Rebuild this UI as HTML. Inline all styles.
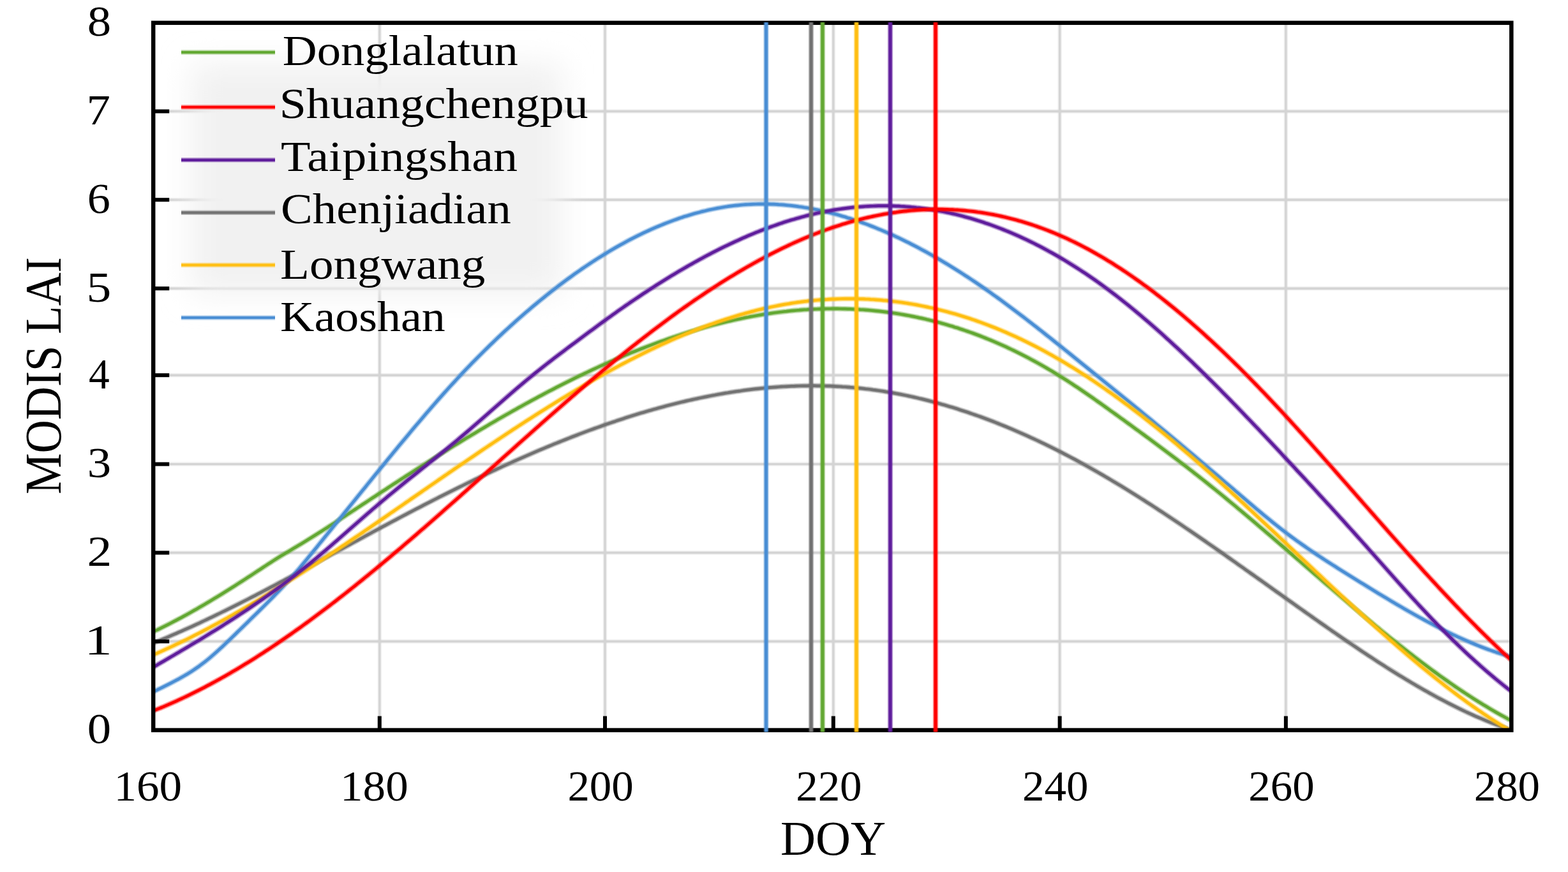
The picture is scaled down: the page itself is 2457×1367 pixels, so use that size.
<!DOCTYPE html>
<html><head><meta charset="utf-8"><title>MODIS LAI</title>
<style>html,body{margin:0;padding:0;background:#fff;}svg{display:block;}</style></head>
<body>
<svg xmlns="http://www.w3.org/2000/svg" width="2457" height="1367" viewBox="0 0 2457 1367">
<defs><clipPath id="pc"><rect x="240.2" y="35.8" width="2128.1000000000004" height="1108.8"/></clipPath><filter id="lb" x="-30%" y="-30%" width="160%" height="160%"><feGaussianBlur stdDeviation="24"/></filter></defs>
<rect x="0" y="0" width="2457" height="1367" fill="#ffffff"/>
<g stroke="#d4d4d4" stroke-width="6.5" stroke-opacity="0.35"><line x1="594.8" y1="35.8" x2="594.8" y2="1144.6"/><line x1="948.0" y1="35.8" x2="948.0" y2="1144.6"/><line x1="1305.8" y1="35.8" x2="1305.8" y2="1144.6"/><line x1="1660.6" y1="35.8" x2="1660.6" y2="1144.6"/><line x1="2014.9" y1="35.8" x2="2014.9" y2="1144.6"/><line x1="240.2" y1="1005.5" x2="2368.3" y2="1005.5"/><line x1="240.2" y1="866.5" x2="2368.3" y2="866.5"/><line x1="240.2" y1="727.6" x2="2368.3" y2="727.6"/><line x1="240.2" y1="588.2" x2="2368.3" y2="588.2"/><line x1="240.2" y1="452.2" x2="2368.3" y2="452.2"/><line x1="240.2" y1="313.2" x2="2368.3" y2="313.2"/><line x1="240.2" y1="174.5" x2="2368.3" y2="174.5"/></g>
<g stroke="#d4d4d4" stroke-width="3.4"><line x1="594.8" y1="35.8" x2="594.8" y2="1144.6"/><line x1="948.0" y1="35.8" x2="948.0" y2="1144.6"/><line x1="1305.8" y1="35.8" x2="1305.8" y2="1144.6"/><line x1="1660.6" y1="35.8" x2="1660.6" y2="1144.6"/><line x1="2014.9" y1="35.8" x2="2014.9" y2="1144.6"/><line x1="240.2" y1="1005.5" x2="2368.3" y2="1005.5"/><line x1="240.2" y1="866.5" x2="2368.3" y2="866.5"/><line x1="240.2" y1="727.6" x2="2368.3" y2="727.6"/><line x1="240.2" y1="588.2" x2="2368.3" y2="588.2"/><line x1="240.2" y1="452.2" x2="2368.3" y2="452.2"/><line x1="240.2" y1="313.2" x2="2368.3" y2="313.2"/><line x1="240.2" y1="174.5" x2="2368.3" y2="174.5"/></g>
<rect x="300" y="100" width="580" height="360" fill="#f1f1f1" filter="url(#lb)"/>
<g clip-path="url(#pc)">
<path d="M240.2,1008.1 L244.2,1006.5 L248.2,1004.8 L252.2,1003.2 L256.2,1001.5 L260.2,999.8 L264.2,998.2 L268.2,996.4 L272.2,994.7 L276.2,993.0 L280.2,991.2 L284.2,989.5 L288.2,987.7 L292.2,985.9 L296.2,984.1 L300.2,982.3 L304.2,980.5 L308.2,978.6 L312.2,976.8 L316.2,974.9 L320.2,973.0 L324.2,971.1 L328.2,969.2 L332.2,967.3 L336.2,965.4 L340.2,963.4 L344.2,961.5 L348.2,959.5 L352.2,957.6 L356.2,955.6 L360.2,953.6 L364.2,951.6 L368.2,949.6 L372.2,947.6 L376.2,945.6 L380.2,943.5 L384.2,941.5 L388.2,939.5 L392.2,937.4 L396.2,935.3 L400.2,933.3 L404.2,931.2 L408.2,929.1 L412.2,927.0 L416.2,924.9 L420.2,922.8 L424.2,920.7 L428.2,918.6 L432.2,916.5 L436.2,914.3 L440.2,912.2 L444.2,910.1 L448.2,907.9 L452.2,905.8 L456.2,903.6 L460.2,901.5 L464.2,899.3 L468.2,897.2 L472.2,895.0 L476.2,892.8 L480.2,890.7 L484.2,888.5 L488.2,886.3 L492.2,884.2 L496.2,882.0 L500.2,879.8 L504.2,877.6 L508.2,875.4 L512.2,873.2 L516.2,871.1 L520.2,868.9 L524.2,866.7 L528.2,864.5 L532.2,862.3 L536.2,860.1 L540.2,858.0 L544.2,855.8 L548.2,853.6 L552.2,851.4 L556.2,849.2 L560.2,847.1 L564.2,844.9 L568.2,842.7 L572.2,840.5 L576.2,838.4 L580.2,836.2 L584.2,834.0 L588.2,831.9 L592.2,829.7 L596.2,827.6 L600.2,825.4 L604.2,823.3 L608.2,821.2 L612.2,819.0 L616.2,816.9 L620.2,814.8 L624.2,812.6 L628.2,810.5 L632.2,808.4 L636.2,806.3 L640.2,804.2 L644.2,802.1 L648.2,800.0 L652.2,797.9 L656.2,795.9 L660.2,793.8 L664.2,791.7 L668.2,789.7 L672.2,787.6 L676.2,785.6 L680.2,783.5 L684.2,781.5 L688.2,779.4 L692.2,777.4 L696.2,775.4 L700.2,773.4 L704.2,771.4 L708.2,769.4 L712.2,767.4 L716.2,765.4 L720.2,763.4 L724.2,761.5 L728.2,759.5 L732.2,757.5 L736.2,755.6 L740.2,753.7 L744.2,751.7 L748.2,749.8 L752.2,747.9 L756.2,746.0 L760.2,744.1 L764.2,742.2 L768.2,740.3 L772.2,738.4 L776.2,736.6 L780.2,734.7 L784.2,732.9 L788.2,731.0 L792.2,729.2 L796.2,727.4 L800.2,725.5 L804.2,723.7 L808.2,721.9 L812.2,720.2 L816.2,718.4 L820.2,716.6 L824.2,714.9 L828.2,713.1 L832.2,711.4 L836.2,709.7 L840.2,707.9 L844.2,706.2 L848.2,704.5 L852.2,702.9 L856.2,701.2 L860.2,699.5 L864.2,697.9 L868.2,696.2 L872.2,694.6 L876.2,693.0 L880.2,691.4 L884.2,689.8 L888.2,688.2 L892.2,686.6 L896.2,685.0 L900.2,683.5 L904.2,682.0 L908.2,680.4 L912.2,678.9 L916.2,677.4 L920.2,675.9 L924.2,674.4 L928.2,673.0 L932.2,671.5 L936.2,670.1 L940.2,668.7 L944.2,667.2 L948.2,665.8 L952.2,664.4 L956.2,663.1 L960.2,661.7 L964.2,660.4 L968.2,659.0 L972.2,657.7 L976.2,656.4 L980.2,655.1 L984.2,653.8 L988.2,652.6 L992.2,651.3 L996.2,650.1 L1000.2,648.8 L1004.2,647.6 L1008.2,646.4 L1012.2,645.2 L1016.2,644.1 L1020.2,642.9 L1024.2,641.8 L1028.2,640.7 L1032.2,639.6 L1036.2,638.5 L1040.2,637.4 L1044.2,636.3 L1048.2,635.3 L1052.2,634.3 L1056.2,633.3 L1060.2,632.3 L1064.2,631.3 L1068.2,630.3 L1072.2,629.4 L1076.2,628.4 L1080.2,627.5 L1084.2,626.6 L1088.2,625.7 L1092.2,624.9 L1096.2,624.0 L1100.2,623.2 L1104.2,622.4 L1108.2,621.6 L1112.2,620.8 L1116.2,620.0 L1120.2,619.3 L1124.2,618.5 L1128.2,617.8 L1132.2,617.1 L1136.2,616.4 L1140.2,615.8 L1144.2,615.1 L1148.2,614.5 L1152.2,613.9 L1156.2,613.3 L1160.2,612.8 L1164.2,612.2 L1168.2,611.7 L1172.2,611.2 L1176.2,610.7 L1180.2,610.2 L1184.2,609.7 L1188.2,609.3 L1192.2,608.9 L1196.2,608.5 L1200.2,608.1 L1204.2,607.7 L1208.2,607.4 L1212.2,607.1 L1216.2,606.8 L1220.2,606.5 L1224.2,606.2 L1228.2,606.0 L1232.2,605.8 L1236.2,605.6 L1240.2,605.4 L1244.2,605.3 L1248.2,605.1 L1252.2,605.0 L1256.2,604.9 L1260.2,604.8 L1264.2,604.8 L1268.2,604.7 L1272.2,604.7 L1276.2,604.7 L1280.2,604.8 L1284.2,604.8 L1288.2,604.9 L1292.2,605.0 L1296.2,605.1 L1300.2,605.2 L1304.2,605.4 L1308.2,605.6 L1312.2,605.8 L1316.2,606.0 L1320.2,606.3 L1324.2,606.5 L1328.2,606.8 L1332.2,607.2 L1336.2,607.5 L1340.2,607.9 L1344.2,608.3 L1348.2,608.7 L1352.2,609.1 L1356.2,609.6 L1360.2,610.0 L1364.2,610.5 L1368.2,611.1 L1372.2,611.6 L1376.2,612.2 L1380.2,612.8 L1384.2,613.4 L1388.2,614.1 L1392.2,614.7 L1396.2,615.4 L1400.2,616.1 L1404.2,616.9 L1408.2,617.6 L1412.2,618.4 L1416.2,619.2 L1420.2,620.0 L1424.2,620.9 L1428.2,621.7 L1432.2,622.6 L1436.2,623.5 L1440.2,624.5 L1444.2,625.4 L1448.2,626.4 L1452.2,627.4 L1456.2,628.4 L1460.2,629.5 L1464.2,630.5 L1468.2,631.6 L1472.2,632.7 L1476.2,633.9 L1480.2,635.0 L1484.2,636.2 L1488.2,637.4 L1492.2,638.6 L1496.2,639.8 L1500.2,641.1 L1504.2,642.4 L1508.2,643.7 L1512.2,645.0 L1516.2,646.3 L1520.2,647.7 L1524.2,649.1 L1528.2,650.5 L1532.2,651.9 L1536.2,653.3 L1540.2,654.8 L1544.2,656.3 L1548.2,657.8 L1552.2,659.3 L1556.2,660.8 L1560.2,662.4 L1564.2,664.0 L1568.2,665.6 L1572.2,667.2 L1576.2,668.8 L1580.2,670.5 L1584.2,672.2 L1588.2,673.9 L1592.2,675.6 L1596.2,677.3 L1600.2,679.1 L1604.2,680.9 L1608.2,682.7 L1612.2,684.5 L1616.2,686.3 L1620.2,688.1 L1624.2,690.0 L1628.2,691.9 L1632.2,693.8 L1636.2,695.7 L1640.2,697.7 L1644.2,699.6 L1648.2,701.6 L1652.2,703.6 L1656.2,705.6 L1660.2,707.7 L1664.2,709.7 L1668.2,711.8 L1672.2,713.9 L1676.2,716.0 L1680.2,718.1 L1684.2,720.2 L1688.2,722.4 L1692.2,724.6 L1696.2,726.8 L1700.2,729.0 L1704.2,731.2 L1708.2,733.5 L1712.2,735.7 L1716.2,738.0 L1720.2,740.3 L1724.2,742.6 L1728.2,744.9 L1732.2,747.3 L1736.2,749.6 L1740.2,752.0 L1744.2,754.4 L1748.2,756.8 L1752.2,759.2 L1756.2,761.6 L1760.2,764.1 L1764.2,766.5 L1768.2,769.0 L1772.2,771.5 L1776.2,774.0 L1780.2,776.5 L1784.2,779.0 L1788.2,781.6 L1792.2,784.1 L1796.2,786.7 L1800.2,789.3 L1804.2,791.8 L1808.2,794.4 L1812.2,797.0 L1816.2,799.7 L1820.2,802.3 L1824.2,804.9 L1828.2,807.6 L1832.2,810.2 L1836.2,812.9 L1840.2,815.6 L1844.2,818.2 L1848.2,820.9 L1852.2,823.6 L1856.2,826.4 L1860.2,829.1 L1864.2,831.8 L1868.2,834.5 L1872.2,837.3 L1876.2,840.0 L1880.2,842.8 L1884.2,845.5 L1888.2,848.3 L1892.2,851.1 L1896.2,853.9 L1900.2,856.6 L1904.2,859.4 L1908.2,862.2 L1912.2,865.0 L1916.2,867.8 L1920.2,870.6 L1924.2,873.5 L1928.2,876.3 L1932.2,879.1 L1936.2,881.9 L1940.2,884.8 L1944.2,887.6 L1948.2,890.4 L1952.2,893.3 L1956.2,896.1 L1960.2,899.0 L1964.2,901.8 L1968.2,904.6 L1972.2,907.5 L1976.2,910.3 L1980.2,913.2 L1984.2,916.0 L1988.2,918.9 L1992.2,921.7 L1996.2,924.6 L2000.2,927.5 L2004.2,930.3 L2008.2,933.2 L2012.2,936.0 L2016.2,938.9 L2020.2,941.7 L2024.2,944.5 L2028.2,947.4 L2032.2,950.2 L2036.2,953.1 L2040.2,955.9 L2044.2,958.7 L2048.2,961.6 L2052.2,964.4 L2056.2,967.2 L2060.2,970.1 L2064.2,972.9 L2068.2,975.7 L2072.2,978.5 L2076.2,981.3 L2080.2,984.1 L2084.2,986.9 L2088.2,989.7 L2092.2,992.4 L2096.2,995.2 L2100.2,998.0 L2104.2,1000.7 L2108.2,1003.5 L2112.2,1006.2 L2116.2,1008.9 L2120.2,1011.6 L2124.2,1014.3 L2128.2,1017.0 L2132.2,1019.7 L2136.2,1022.4 L2140.2,1025.0 L2144.2,1027.7 L2148.2,1030.3 L2152.2,1032.9 L2156.2,1035.6 L2160.2,1038.2 L2164.2,1040.7 L2168.2,1043.3 L2172.2,1045.9 L2176.2,1048.4 L2180.2,1050.9 L2184.2,1053.4 L2188.2,1055.9 L2192.2,1058.4 L2196.2,1060.8 L2200.2,1063.3 L2204.2,1065.7 L2208.2,1068.1 L2212.2,1070.5 L2216.2,1072.8 L2220.2,1075.2 L2224.2,1077.5 L2228.2,1079.8 L2232.2,1082.1 L2236.2,1084.3 L2240.2,1086.6 L2244.2,1088.8 L2248.2,1091.0 L2252.2,1093.2 L2256.2,1095.3 L2260.2,1097.4 L2264.2,1099.5 L2268.2,1101.6 L2272.2,1103.7 L2276.2,1105.7 L2280.2,1107.7 L2284.2,1109.7 L2288.2,1111.6 L2292.2,1113.6 L2296.2,1115.5 L2300.2,1117.3 L2304.2,1119.2 L2308.2,1121.0 L2312.2,1122.8 L2316.2,1124.5 L2320.2,1126.2 L2324.2,1127.9 L2328.2,1129.6 L2332.2,1131.2 L2336.2,1132.8 L2340.2,1134.4 L2344.2,1135.9 L2348.2,1137.4 L2352.2,1138.9 L2356.2,1140.3 L2360.2,1141.7 L2364.2,1143.1 L2368.2,1144.4 L2368.3,1144.4" fill="none" stroke="#727272" stroke-width="8.4" stroke-opacity="0.42" stroke-linejoin="round"/>
<path d="M240.2,1008.1 L244.2,1006.5 L248.2,1004.8 L252.2,1003.2 L256.2,1001.5 L260.2,999.8 L264.2,998.2 L268.2,996.4 L272.2,994.7 L276.2,993.0 L280.2,991.2 L284.2,989.5 L288.2,987.7 L292.2,985.9 L296.2,984.1 L300.2,982.3 L304.2,980.5 L308.2,978.6 L312.2,976.8 L316.2,974.9 L320.2,973.0 L324.2,971.1 L328.2,969.2 L332.2,967.3 L336.2,965.4 L340.2,963.4 L344.2,961.5 L348.2,959.5 L352.2,957.6 L356.2,955.6 L360.2,953.6 L364.2,951.6 L368.2,949.6 L372.2,947.6 L376.2,945.6 L380.2,943.5 L384.2,941.5 L388.2,939.5 L392.2,937.4 L396.2,935.3 L400.2,933.3 L404.2,931.2 L408.2,929.1 L412.2,927.0 L416.2,924.9 L420.2,922.8 L424.2,920.7 L428.2,918.6 L432.2,916.5 L436.2,914.3 L440.2,912.2 L444.2,910.1 L448.2,907.9 L452.2,905.8 L456.2,903.6 L460.2,901.5 L464.2,899.3 L468.2,897.2 L472.2,895.0 L476.2,892.8 L480.2,890.7 L484.2,888.5 L488.2,886.3 L492.2,884.2 L496.2,882.0 L500.2,879.8 L504.2,877.6 L508.2,875.4 L512.2,873.2 L516.2,871.1 L520.2,868.9 L524.2,866.7 L528.2,864.5 L532.2,862.3 L536.2,860.1 L540.2,858.0 L544.2,855.8 L548.2,853.6 L552.2,851.4 L556.2,849.2 L560.2,847.1 L564.2,844.9 L568.2,842.7 L572.2,840.5 L576.2,838.4 L580.2,836.2 L584.2,834.0 L588.2,831.9 L592.2,829.7 L596.2,827.6 L600.2,825.4 L604.2,823.3 L608.2,821.2 L612.2,819.0 L616.2,816.9 L620.2,814.8 L624.2,812.6 L628.2,810.5 L632.2,808.4 L636.2,806.3 L640.2,804.2 L644.2,802.1 L648.2,800.0 L652.2,797.9 L656.2,795.9 L660.2,793.8 L664.2,791.7 L668.2,789.7 L672.2,787.6 L676.2,785.6 L680.2,783.5 L684.2,781.5 L688.2,779.4 L692.2,777.4 L696.2,775.4 L700.2,773.4 L704.2,771.4 L708.2,769.4 L712.2,767.4 L716.2,765.4 L720.2,763.4 L724.2,761.5 L728.2,759.5 L732.2,757.5 L736.2,755.6 L740.2,753.7 L744.2,751.7 L748.2,749.8 L752.2,747.9 L756.2,746.0 L760.2,744.1 L764.2,742.2 L768.2,740.3 L772.2,738.4 L776.2,736.6 L780.2,734.7 L784.2,732.9 L788.2,731.0 L792.2,729.2 L796.2,727.4 L800.2,725.5 L804.2,723.7 L808.2,721.9 L812.2,720.2 L816.2,718.4 L820.2,716.6 L824.2,714.9 L828.2,713.1 L832.2,711.4 L836.2,709.7 L840.2,707.9 L844.2,706.2 L848.2,704.5 L852.2,702.9 L856.2,701.2 L860.2,699.5 L864.2,697.9 L868.2,696.2 L872.2,694.6 L876.2,693.0 L880.2,691.4 L884.2,689.8 L888.2,688.2 L892.2,686.6 L896.2,685.0 L900.2,683.5 L904.2,682.0 L908.2,680.4 L912.2,678.9 L916.2,677.4 L920.2,675.9 L924.2,674.4 L928.2,673.0 L932.2,671.5 L936.2,670.1 L940.2,668.7 L944.2,667.2 L948.2,665.8 L952.2,664.4 L956.2,663.1 L960.2,661.7 L964.2,660.4 L968.2,659.0 L972.2,657.7 L976.2,656.4 L980.2,655.1 L984.2,653.8 L988.2,652.6 L992.2,651.3 L996.2,650.1 L1000.2,648.8 L1004.2,647.6 L1008.2,646.4 L1012.2,645.2 L1016.2,644.1 L1020.2,642.9 L1024.2,641.8 L1028.2,640.7 L1032.2,639.6 L1036.2,638.5 L1040.2,637.4 L1044.2,636.3 L1048.2,635.3 L1052.2,634.3 L1056.2,633.3 L1060.2,632.3 L1064.2,631.3 L1068.2,630.3 L1072.2,629.4 L1076.2,628.4 L1080.2,627.5 L1084.2,626.6 L1088.2,625.7 L1092.2,624.9 L1096.2,624.0 L1100.2,623.2 L1104.2,622.4 L1108.2,621.6 L1112.2,620.8 L1116.2,620.0 L1120.2,619.3 L1124.2,618.5 L1128.2,617.8 L1132.2,617.1 L1136.2,616.4 L1140.2,615.8 L1144.2,615.1 L1148.2,614.5 L1152.2,613.9 L1156.2,613.3 L1160.2,612.8 L1164.2,612.2 L1168.2,611.7 L1172.2,611.2 L1176.2,610.7 L1180.2,610.2 L1184.2,609.7 L1188.2,609.3 L1192.2,608.9 L1196.2,608.5 L1200.2,608.1 L1204.2,607.7 L1208.2,607.4 L1212.2,607.1 L1216.2,606.8 L1220.2,606.5 L1224.2,606.2 L1228.2,606.0 L1232.2,605.8 L1236.2,605.6 L1240.2,605.4 L1244.2,605.3 L1248.2,605.1 L1252.2,605.0 L1256.2,604.9 L1260.2,604.8 L1264.2,604.8 L1268.2,604.7 L1272.2,604.7 L1276.2,604.7 L1280.2,604.8 L1284.2,604.8 L1288.2,604.9 L1292.2,605.0 L1296.2,605.1 L1300.2,605.2 L1304.2,605.4 L1308.2,605.6 L1312.2,605.8 L1316.2,606.0 L1320.2,606.3 L1324.2,606.5 L1328.2,606.8 L1332.2,607.2 L1336.2,607.5 L1340.2,607.9 L1344.2,608.3 L1348.2,608.7 L1352.2,609.1 L1356.2,609.6 L1360.2,610.0 L1364.2,610.5 L1368.2,611.1 L1372.2,611.6 L1376.2,612.2 L1380.2,612.8 L1384.2,613.4 L1388.2,614.1 L1392.2,614.7 L1396.2,615.4 L1400.2,616.1 L1404.2,616.9 L1408.2,617.6 L1412.2,618.4 L1416.2,619.2 L1420.2,620.0 L1424.2,620.9 L1428.2,621.7 L1432.2,622.6 L1436.2,623.5 L1440.2,624.5 L1444.2,625.4 L1448.2,626.4 L1452.2,627.4 L1456.2,628.4 L1460.2,629.5 L1464.2,630.5 L1468.2,631.6 L1472.2,632.7 L1476.2,633.9 L1480.2,635.0 L1484.2,636.2 L1488.2,637.4 L1492.2,638.6 L1496.2,639.8 L1500.2,641.1 L1504.2,642.4 L1508.2,643.7 L1512.2,645.0 L1516.2,646.3 L1520.2,647.7 L1524.2,649.1 L1528.2,650.5 L1532.2,651.9 L1536.2,653.3 L1540.2,654.8 L1544.2,656.3 L1548.2,657.8 L1552.2,659.3 L1556.2,660.8 L1560.2,662.4 L1564.2,664.0 L1568.2,665.6 L1572.2,667.2 L1576.2,668.8 L1580.2,670.5 L1584.2,672.2 L1588.2,673.9 L1592.2,675.6 L1596.2,677.3 L1600.2,679.1 L1604.2,680.9 L1608.2,682.7 L1612.2,684.5 L1616.2,686.3 L1620.2,688.1 L1624.2,690.0 L1628.2,691.9 L1632.2,693.8 L1636.2,695.7 L1640.2,697.7 L1644.2,699.6 L1648.2,701.6 L1652.2,703.6 L1656.2,705.6 L1660.2,707.7 L1664.2,709.7 L1668.2,711.8 L1672.2,713.9 L1676.2,716.0 L1680.2,718.1 L1684.2,720.2 L1688.2,722.4 L1692.2,724.6 L1696.2,726.8 L1700.2,729.0 L1704.2,731.2 L1708.2,733.5 L1712.2,735.7 L1716.2,738.0 L1720.2,740.3 L1724.2,742.6 L1728.2,744.9 L1732.2,747.3 L1736.2,749.6 L1740.2,752.0 L1744.2,754.4 L1748.2,756.8 L1752.2,759.2 L1756.2,761.6 L1760.2,764.1 L1764.2,766.5 L1768.2,769.0 L1772.2,771.5 L1776.2,774.0 L1780.2,776.5 L1784.2,779.0 L1788.2,781.6 L1792.2,784.1 L1796.2,786.7 L1800.2,789.3 L1804.2,791.8 L1808.2,794.4 L1812.2,797.0 L1816.2,799.7 L1820.2,802.3 L1824.2,804.9 L1828.2,807.6 L1832.2,810.2 L1836.2,812.9 L1840.2,815.6 L1844.2,818.2 L1848.2,820.9 L1852.2,823.6 L1856.2,826.4 L1860.2,829.1 L1864.2,831.8 L1868.2,834.5 L1872.2,837.3 L1876.2,840.0 L1880.2,842.8 L1884.2,845.5 L1888.2,848.3 L1892.2,851.1 L1896.2,853.9 L1900.2,856.6 L1904.2,859.4 L1908.2,862.2 L1912.2,865.0 L1916.2,867.8 L1920.2,870.6 L1924.2,873.5 L1928.2,876.3 L1932.2,879.1 L1936.2,881.9 L1940.2,884.8 L1944.2,887.6 L1948.2,890.4 L1952.2,893.3 L1956.2,896.1 L1960.2,899.0 L1964.2,901.8 L1968.2,904.6 L1972.2,907.5 L1976.2,910.3 L1980.2,913.2 L1984.2,916.0 L1988.2,918.9 L1992.2,921.7 L1996.2,924.6 L2000.2,927.5 L2004.2,930.3 L2008.2,933.2 L2012.2,936.0 L2016.2,938.9 L2020.2,941.7 L2024.2,944.5 L2028.2,947.4 L2032.2,950.2 L2036.2,953.1 L2040.2,955.9 L2044.2,958.7 L2048.2,961.6 L2052.2,964.4 L2056.2,967.2 L2060.2,970.1 L2064.2,972.9 L2068.2,975.7 L2072.2,978.5 L2076.2,981.3 L2080.2,984.1 L2084.2,986.9 L2088.2,989.7 L2092.2,992.4 L2096.2,995.2 L2100.2,998.0 L2104.2,1000.7 L2108.2,1003.5 L2112.2,1006.2 L2116.2,1008.9 L2120.2,1011.6 L2124.2,1014.3 L2128.2,1017.0 L2132.2,1019.7 L2136.2,1022.4 L2140.2,1025.0 L2144.2,1027.7 L2148.2,1030.3 L2152.2,1032.9 L2156.2,1035.6 L2160.2,1038.2 L2164.2,1040.7 L2168.2,1043.3 L2172.2,1045.9 L2176.2,1048.4 L2180.2,1050.9 L2184.2,1053.4 L2188.2,1055.9 L2192.2,1058.4 L2196.2,1060.8 L2200.2,1063.3 L2204.2,1065.7 L2208.2,1068.1 L2212.2,1070.5 L2216.2,1072.8 L2220.2,1075.2 L2224.2,1077.5 L2228.2,1079.8 L2232.2,1082.1 L2236.2,1084.3 L2240.2,1086.6 L2244.2,1088.8 L2248.2,1091.0 L2252.2,1093.2 L2256.2,1095.3 L2260.2,1097.4 L2264.2,1099.5 L2268.2,1101.6 L2272.2,1103.7 L2276.2,1105.7 L2280.2,1107.7 L2284.2,1109.7 L2288.2,1111.6 L2292.2,1113.6 L2296.2,1115.5 L2300.2,1117.3 L2304.2,1119.2 L2308.2,1121.0 L2312.2,1122.8 L2316.2,1124.5 L2320.2,1126.2 L2324.2,1127.9 L2328.2,1129.6 L2332.2,1131.2 L2336.2,1132.8 L2340.2,1134.4 L2344.2,1135.9 L2348.2,1137.4 L2352.2,1138.9 L2356.2,1140.3 L2360.2,1141.7 L2364.2,1143.1 L2368.2,1144.4 L2368.3,1144.4" fill="none" stroke="#727272" stroke-width="4.7" stroke-linejoin="round"/>
<path d="M240.2,990.4 L244.2,988.5 L248.2,986.6 L252.2,984.6 L256.2,982.6 L260.2,980.6 L264.2,978.6 L268.2,976.5 L272.2,974.4 L276.2,972.3 L280.2,970.2 L284.2,968.1 L288.2,965.9 L292.2,963.7 L296.2,961.5 L300.2,959.2 L304.2,956.9 L308.2,954.7 L312.2,952.3 L316.2,950.0 L320.2,947.7 L324.2,945.3 L328.2,942.9 L332.2,940.5 L336.2,938.1 L340.2,935.7 L344.2,933.2 L348.2,930.8 L352.2,928.3 L356.2,925.8 L360.2,923.3 L364.2,920.7 L368.2,918.2 L372.2,915.6 L376.2,913.1 L380.2,910.5 L384.2,907.9 L388.2,905.3 L392.2,902.7 L396.2,900.1 L400.2,897.4 L404.2,894.8 L408.2,892.2 L412.2,889.5 L416.2,886.9 L420.2,884.3 L424.2,881.7 L428.2,879.1 L432.2,876.6 L436.2,874.1 L440.2,871.6 L444.2,869.2 L448.2,866.8 L452.2,864.4 L456.2,862.0 L460.2,859.6 L464.2,857.2 L468.2,854.8 L472.2,852.4 L476.2,850.0 L480.2,847.5 L484.2,845.0 L488.2,842.6 L492.2,840.1 L496.2,837.6 L500.2,835.0 L504.2,832.5 L508.2,829.9 L512.2,827.4 L516.2,824.8 L520.2,822.2 L524.2,819.7 L528.2,817.1 L532.2,814.5 L536.2,811.9 L540.2,809.2 L544.2,806.6 L548.2,804.0 L552.2,801.4 L556.2,798.7 L560.2,796.1 L564.2,793.5 L568.2,790.8 L572.2,788.2 L576.2,785.6 L580.2,782.9 L584.2,780.3 L588.2,777.7 L592.2,775.0 L596.2,772.4 L600.2,769.8 L604.2,767.2 L608.2,764.5 L612.2,761.9 L616.2,759.3 L620.2,756.7 L624.2,754.1 L628.2,751.5 L632.2,748.9 L636.2,746.3 L640.2,743.8 L644.2,741.2 L648.2,738.6 L652.2,736.1 L656.2,733.5 L660.2,730.9 L664.2,728.4 L668.2,725.9 L672.2,723.3 L676.2,720.8 L680.2,718.3 L684.2,715.8 L688.2,713.2 L692.2,710.7 L696.2,708.2 L700.2,705.8 L704.2,703.3 L708.2,700.8 L712.2,698.3 L716.2,695.9 L720.2,693.4 L724.2,691.0 L728.2,688.5 L732.2,686.1 L736.2,683.7 L740.2,681.3 L744.2,678.9 L748.2,676.5 L752.2,674.1 L756.2,671.7 L760.2,669.4 L764.2,667.0 L768.2,664.6 L772.2,662.3 L776.2,660.0 L780.2,657.6 L784.2,655.3 L788.2,653.0 L792.2,650.7 L796.2,648.5 L800.2,646.2 L804.2,643.9 L808.2,641.7 L812.2,639.4 L816.2,637.2 L820.2,635.0 L824.2,632.8 L828.2,630.6 L832.2,628.4 L836.2,626.2 L840.2,624.1 L844.2,621.9 L848.2,619.8 L852.2,617.7 L856.2,615.5 L860.2,613.4 L864.2,611.4 L868.2,609.3 L872.2,607.2 L876.2,605.2 L880.2,603.1 L884.2,601.1 L888.2,599.1 L892.2,597.1 L896.2,595.1 L900.2,593.1 L904.2,591.2 L908.2,589.2 L912.2,587.3 L916.2,585.4 L920.2,583.5 L924.2,581.6 L928.2,579.7 L932.2,577.9 L936.2,576.0 L940.2,574.2 L944.2,572.4 L948.2,570.6 L952.2,568.8 L956.2,567.0 L960.2,565.3 L964.2,563.5 L968.2,561.8 L972.2,560.1 L976.2,558.4 L980.2,556.7 L984.2,555.1 L988.2,553.4 L992.2,551.8 L996.2,550.2 L1000.2,548.6 L1004.2,547.0 L1008.2,545.5 L1012.2,543.9 L1016.2,542.4 L1020.2,540.9 L1024.2,539.4 L1028.2,537.9 L1032.2,536.4 L1036.2,535.0 L1040.2,533.6 L1044.2,532.2 L1048.2,530.8 L1052.2,529.4 L1056.2,528.1 L1060.2,526.7 L1064.2,525.4 L1068.2,524.1 L1072.2,522.8 L1076.2,521.6 L1080.2,520.3 L1084.2,519.1 L1088.2,517.9 L1092.2,516.7 L1096.2,515.5 L1100.2,514.4 L1104.2,513.3 L1108.2,512.2 L1112.2,511.1 L1116.2,510.0 L1120.2,509.0 L1124.2,507.9 L1128.2,506.9 L1132.2,505.9 L1136.2,505.0 L1140.2,504.0 L1144.2,503.1 L1148.2,502.2 L1152.2,501.3 L1156.2,500.4 L1160.2,499.6 L1164.2,498.8 L1168.2,497.9 L1172.2,497.2 L1176.2,496.4 L1180.2,495.7 L1184.2,495.0 L1188.2,494.3 L1192.2,493.6 L1196.2,492.9 L1200.2,492.3 L1204.2,491.7 L1208.2,491.1 L1212.2,490.5 L1216.2,490.0 L1220.2,489.5 L1224.2,489.0 L1228.2,488.5 L1232.2,488.1 L1236.2,487.6 L1240.2,487.2 L1244.2,486.8 L1248.2,486.5 L1252.2,486.2 L1256.2,485.8 L1260.2,485.5 L1264.2,485.3 L1268.2,485.0 L1272.2,484.8 L1276.2,484.6 L1280.2,484.5 L1284.2,484.3 L1288.2,484.2 L1292.2,484.1 L1296.2,484.0 L1300.2,484.0 L1304.2,483.9 L1308.2,483.9 L1312.2,483.9 L1316.2,484.0 L1320.2,484.1 L1324.2,484.2 L1328.2,484.3 L1332.2,484.4 L1336.2,484.6 L1340.2,484.8 L1344.2,485.0 L1348.2,485.3 L1352.2,485.5 L1356.2,485.8 L1360.2,486.1 L1364.2,486.5 L1368.2,486.9 L1372.2,487.3 L1376.2,487.7 L1380.2,488.1 L1384.2,488.6 L1388.2,489.1 L1392.2,489.6 L1396.2,490.2 L1400.2,490.8 L1404.2,491.4 L1408.2,492.0 L1412.2,492.7 L1416.2,493.4 L1420.2,494.1 L1424.2,494.8 L1428.2,495.6 L1432.2,496.4 L1436.2,497.2 L1440.2,498.1 L1444.2,498.9 L1448.2,499.8 L1452.2,500.8 L1456.2,501.7 L1460.2,502.7 L1464.2,503.7 L1468.2,504.8 L1472.2,505.8 L1476.2,506.9 L1480.2,508.1 L1484.2,509.2 L1488.2,510.4 L1492.2,511.6 L1496.2,512.9 L1500.2,514.1 L1504.2,515.4 L1508.2,516.7 L1512.2,518.1 L1516.2,519.5 L1520.2,520.9 L1524.2,522.3 L1528.2,523.8 L1532.2,525.3 L1536.2,526.8 L1540.2,528.4 L1544.2,530.0 L1548.2,531.6 L1552.2,533.2 L1556.2,534.9 L1560.2,536.6 L1564.2,538.4 L1568.2,540.1 L1572.2,541.9 L1576.2,543.7 L1580.2,545.6 L1584.2,547.5 L1588.2,549.4 L1592.2,551.3 L1596.2,553.3 L1600.2,555.3 L1604.2,557.4 L1608.2,559.4 L1612.2,561.5 L1616.2,563.7 L1620.2,565.8 L1624.2,568.0 L1628.2,570.2 L1632.2,572.5 L1636.2,574.8 L1640.2,577.1 L1644.2,579.5 L1648.2,581.8 L1652.2,584.3 L1656.2,586.7 L1660.2,589.2 L1664.2,591.7 L1668.2,594.2 L1672.2,596.8 L1676.2,599.4 L1680.2,602.0 L1684.2,604.7 L1688.2,607.3 L1692.2,610.0 L1696.2,612.8 L1700.2,615.5 L1704.2,618.3 L1708.2,621.0 L1712.2,623.8 L1716.2,626.6 L1720.2,629.5 L1724.2,632.3 L1728.2,635.2 L1732.2,638.0 L1736.2,640.9 L1740.2,643.8 L1744.2,646.6 L1748.2,649.5 L1752.2,652.4 L1756.2,655.3 L1760.2,658.2 L1764.2,661.1 L1768.2,664.0 L1772.2,666.9 L1776.2,669.8 L1780.2,672.8 L1784.2,675.7 L1788.2,678.6 L1792.2,681.5 L1796.2,684.5 L1800.2,687.4 L1804.2,690.4 L1808.2,693.4 L1812.2,696.3 L1816.2,699.3 L1820.2,702.3 L1824.2,705.3 L1828.2,708.3 L1832.2,711.3 L1836.2,714.4 L1840.2,717.4 L1844.2,720.4 L1848.2,723.5 L1852.2,726.6 L1856.2,729.6 L1860.2,732.7 L1864.2,735.8 L1868.2,738.9 L1872.2,742.1 L1876.2,745.2 L1880.2,748.4 L1884.2,751.5 L1888.2,754.7 L1892.2,757.9 L1896.2,761.1 L1900.2,764.3 L1904.2,767.5 L1908.2,770.8 L1912.2,774.0 L1916.2,777.3 L1920.2,780.6 L1924.2,783.9 L1928.2,787.2 L1932.2,790.5 L1936.2,793.8 L1940.2,797.2 L1944.2,800.5 L1948.2,803.9 L1952.2,807.2 L1956.2,810.6 L1960.2,814.0 L1964.2,817.4 L1968.2,820.8 L1972.2,824.2 L1976.2,827.6 L1980.2,831.0 L1984.2,834.5 L1988.2,837.9 L1992.2,841.3 L1996.2,844.8 L2000.2,848.2 L2004.2,851.7 L2008.2,855.1 L2012.2,858.6 L2016.2,862.0 L2020.2,865.5 L2024.2,868.9 L2028.2,872.4 L2032.2,875.9 L2036.2,879.3 L2040.2,882.8 L2044.2,886.3 L2048.2,889.7 L2052.2,893.2 L2056.2,896.7 L2060.2,900.1 L2064.2,903.6 L2068.2,907.0 L2072.2,910.5 L2076.2,914.0 L2080.2,917.4 L2084.2,920.8 L2088.2,924.3 L2092.2,927.7 L2096.2,931.1 L2100.2,934.6 L2104.2,938.0 L2108.2,941.4 L2112.2,944.8 L2116.2,948.2 L2120.2,951.6 L2124.2,955.0 L2128.2,958.3 L2132.2,961.7 L2136.2,965.0 L2140.2,968.4 L2144.2,971.7 L2148.2,975.0 L2152.2,978.4 L2156.2,981.7 L2160.2,984.9 L2164.2,988.2 L2168.2,991.5 L2172.2,994.7 L2176.2,998.0 L2180.2,1001.2 L2184.2,1004.4 L2188.2,1007.6 L2192.2,1010.8 L2196.2,1013.9 L2200.2,1017.1 L2204.2,1020.2 L2208.2,1023.3 L2212.2,1026.4 L2216.2,1029.5 L2220.2,1032.6 L2224.2,1035.6 L2228.2,1038.7 L2232.2,1041.7 L2236.2,1044.7 L2240.2,1047.6 L2244.2,1050.6 L2248.2,1053.5 L2252.2,1056.4 L2256.2,1059.3 L2260.2,1062.2 L2264.2,1065.0 L2268.2,1067.8 L2272.2,1070.6 L2276.2,1073.4 L2280.2,1076.2 L2284.2,1078.9 L2288.2,1081.6 L2292.2,1084.3 L2296.2,1086.9 L2300.2,1089.5 L2304.2,1092.1 L2308.2,1094.7 L2312.2,1097.2 L2316.2,1099.8 L2320.2,1102.2 L2324.2,1104.7 L2328.2,1107.1 L2332.2,1109.5 L2336.2,1111.9 L2340.2,1114.3 L2344.2,1116.6 L2348.2,1118.9 L2352.2,1121.1 L2356.2,1123.3 L2360.2,1125.5 L2364.2,1127.7 L2368.2,1129.8 L2368.3,1129.9" fill="none" stroke="#62A832" stroke-width="8.4" stroke-opacity="0.42" stroke-linejoin="round"/>
<path d="M240.2,990.4 L244.2,988.5 L248.2,986.6 L252.2,984.6 L256.2,982.6 L260.2,980.6 L264.2,978.6 L268.2,976.5 L272.2,974.4 L276.2,972.3 L280.2,970.2 L284.2,968.1 L288.2,965.9 L292.2,963.7 L296.2,961.5 L300.2,959.2 L304.2,956.9 L308.2,954.7 L312.2,952.3 L316.2,950.0 L320.2,947.7 L324.2,945.3 L328.2,942.9 L332.2,940.5 L336.2,938.1 L340.2,935.7 L344.2,933.2 L348.2,930.8 L352.2,928.3 L356.2,925.8 L360.2,923.3 L364.2,920.7 L368.2,918.2 L372.2,915.6 L376.2,913.1 L380.2,910.5 L384.2,907.9 L388.2,905.3 L392.2,902.7 L396.2,900.1 L400.2,897.4 L404.2,894.8 L408.2,892.2 L412.2,889.5 L416.2,886.9 L420.2,884.3 L424.2,881.7 L428.2,879.1 L432.2,876.6 L436.2,874.1 L440.2,871.6 L444.2,869.2 L448.2,866.8 L452.2,864.4 L456.2,862.0 L460.2,859.6 L464.2,857.2 L468.2,854.8 L472.2,852.4 L476.2,850.0 L480.2,847.5 L484.2,845.0 L488.2,842.6 L492.2,840.1 L496.2,837.6 L500.2,835.0 L504.2,832.5 L508.2,829.9 L512.2,827.4 L516.2,824.8 L520.2,822.2 L524.2,819.7 L528.2,817.1 L532.2,814.5 L536.2,811.9 L540.2,809.2 L544.2,806.6 L548.2,804.0 L552.2,801.4 L556.2,798.7 L560.2,796.1 L564.2,793.5 L568.2,790.8 L572.2,788.2 L576.2,785.6 L580.2,782.9 L584.2,780.3 L588.2,777.7 L592.2,775.0 L596.2,772.4 L600.2,769.8 L604.2,767.2 L608.2,764.5 L612.2,761.9 L616.2,759.3 L620.2,756.7 L624.2,754.1 L628.2,751.5 L632.2,748.9 L636.2,746.3 L640.2,743.8 L644.2,741.2 L648.2,738.6 L652.2,736.1 L656.2,733.5 L660.2,730.9 L664.2,728.4 L668.2,725.9 L672.2,723.3 L676.2,720.8 L680.2,718.3 L684.2,715.8 L688.2,713.2 L692.2,710.7 L696.2,708.2 L700.2,705.8 L704.2,703.3 L708.2,700.8 L712.2,698.3 L716.2,695.9 L720.2,693.4 L724.2,691.0 L728.2,688.5 L732.2,686.1 L736.2,683.7 L740.2,681.3 L744.2,678.9 L748.2,676.5 L752.2,674.1 L756.2,671.7 L760.2,669.4 L764.2,667.0 L768.2,664.6 L772.2,662.3 L776.2,660.0 L780.2,657.6 L784.2,655.3 L788.2,653.0 L792.2,650.7 L796.2,648.5 L800.2,646.2 L804.2,643.9 L808.2,641.7 L812.2,639.4 L816.2,637.2 L820.2,635.0 L824.2,632.8 L828.2,630.6 L832.2,628.4 L836.2,626.2 L840.2,624.1 L844.2,621.9 L848.2,619.8 L852.2,617.7 L856.2,615.5 L860.2,613.4 L864.2,611.4 L868.2,609.3 L872.2,607.2 L876.2,605.2 L880.2,603.1 L884.2,601.1 L888.2,599.1 L892.2,597.1 L896.2,595.1 L900.2,593.1 L904.2,591.2 L908.2,589.2 L912.2,587.3 L916.2,585.4 L920.2,583.5 L924.2,581.6 L928.2,579.7 L932.2,577.9 L936.2,576.0 L940.2,574.2 L944.2,572.4 L948.2,570.6 L952.2,568.8 L956.2,567.0 L960.2,565.3 L964.2,563.5 L968.2,561.8 L972.2,560.1 L976.2,558.4 L980.2,556.7 L984.2,555.1 L988.2,553.4 L992.2,551.8 L996.2,550.2 L1000.2,548.6 L1004.2,547.0 L1008.2,545.5 L1012.2,543.9 L1016.2,542.4 L1020.2,540.9 L1024.2,539.4 L1028.2,537.9 L1032.2,536.4 L1036.2,535.0 L1040.2,533.6 L1044.2,532.2 L1048.2,530.8 L1052.2,529.4 L1056.2,528.1 L1060.2,526.7 L1064.2,525.4 L1068.2,524.1 L1072.2,522.8 L1076.2,521.6 L1080.2,520.3 L1084.2,519.1 L1088.2,517.9 L1092.2,516.7 L1096.2,515.5 L1100.2,514.4 L1104.2,513.3 L1108.2,512.2 L1112.2,511.1 L1116.2,510.0 L1120.2,509.0 L1124.2,507.9 L1128.2,506.9 L1132.2,505.9 L1136.2,505.0 L1140.2,504.0 L1144.2,503.1 L1148.2,502.2 L1152.2,501.3 L1156.2,500.4 L1160.2,499.6 L1164.2,498.8 L1168.2,497.9 L1172.2,497.2 L1176.2,496.4 L1180.2,495.7 L1184.2,495.0 L1188.2,494.3 L1192.2,493.6 L1196.2,492.9 L1200.2,492.3 L1204.2,491.7 L1208.2,491.1 L1212.2,490.5 L1216.2,490.0 L1220.2,489.5 L1224.2,489.0 L1228.2,488.5 L1232.2,488.1 L1236.2,487.6 L1240.2,487.2 L1244.2,486.8 L1248.2,486.5 L1252.2,486.2 L1256.2,485.8 L1260.2,485.5 L1264.2,485.3 L1268.2,485.0 L1272.2,484.8 L1276.2,484.6 L1280.2,484.5 L1284.2,484.3 L1288.2,484.2 L1292.2,484.1 L1296.2,484.0 L1300.2,484.0 L1304.2,483.9 L1308.2,483.9 L1312.2,483.9 L1316.2,484.0 L1320.2,484.1 L1324.2,484.2 L1328.2,484.3 L1332.2,484.4 L1336.2,484.6 L1340.2,484.8 L1344.2,485.0 L1348.2,485.3 L1352.2,485.5 L1356.2,485.8 L1360.2,486.1 L1364.2,486.5 L1368.2,486.9 L1372.2,487.3 L1376.2,487.7 L1380.2,488.1 L1384.2,488.6 L1388.2,489.1 L1392.2,489.6 L1396.2,490.2 L1400.2,490.8 L1404.2,491.4 L1408.2,492.0 L1412.2,492.7 L1416.2,493.4 L1420.2,494.1 L1424.2,494.8 L1428.2,495.6 L1432.2,496.4 L1436.2,497.2 L1440.2,498.1 L1444.2,498.9 L1448.2,499.8 L1452.2,500.8 L1456.2,501.7 L1460.2,502.7 L1464.2,503.7 L1468.2,504.8 L1472.2,505.8 L1476.2,506.9 L1480.2,508.1 L1484.2,509.2 L1488.2,510.4 L1492.2,511.6 L1496.2,512.9 L1500.2,514.1 L1504.2,515.4 L1508.2,516.7 L1512.2,518.1 L1516.2,519.5 L1520.2,520.9 L1524.2,522.3 L1528.2,523.8 L1532.2,525.3 L1536.2,526.8 L1540.2,528.4 L1544.2,530.0 L1548.2,531.6 L1552.2,533.2 L1556.2,534.9 L1560.2,536.6 L1564.2,538.4 L1568.2,540.1 L1572.2,541.9 L1576.2,543.7 L1580.2,545.6 L1584.2,547.5 L1588.2,549.4 L1592.2,551.3 L1596.2,553.3 L1600.2,555.3 L1604.2,557.4 L1608.2,559.4 L1612.2,561.5 L1616.2,563.7 L1620.2,565.8 L1624.2,568.0 L1628.2,570.2 L1632.2,572.5 L1636.2,574.8 L1640.2,577.1 L1644.2,579.5 L1648.2,581.8 L1652.2,584.3 L1656.2,586.7 L1660.2,589.2 L1664.2,591.7 L1668.2,594.2 L1672.2,596.8 L1676.2,599.4 L1680.2,602.0 L1684.2,604.7 L1688.2,607.3 L1692.2,610.0 L1696.2,612.8 L1700.2,615.5 L1704.2,618.3 L1708.2,621.0 L1712.2,623.8 L1716.2,626.6 L1720.2,629.5 L1724.2,632.3 L1728.2,635.2 L1732.2,638.0 L1736.2,640.9 L1740.2,643.8 L1744.2,646.6 L1748.2,649.5 L1752.2,652.4 L1756.2,655.3 L1760.2,658.2 L1764.2,661.1 L1768.2,664.0 L1772.2,666.9 L1776.2,669.8 L1780.2,672.8 L1784.2,675.7 L1788.2,678.6 L1792.2,681.5 L1796.2,684.5 L1800.2,687.4 L1804.2,690.4 L1808.2,693.4 L1812.2,696.3 L1816.2,699.3 L1820.2,702.3 L1824.2,705.3 L1828.2,708.3 L1832.2,711.3 L1836.2,714.4 L1840.2,717.4 L1844.2,720.4 L1848.2,723.5 L1852.2,726.6 L1856.2,729.6 L1860.2,732.7 L1864.2,735.8 L1868.2,738.9 L1872.2,742.1 L1876.2,745.2 L1880.2,748.4 L1884.2,751.5 L1888.2,754.7 L1892.2,757.9 L1896.2,761.1 L1900.2,764.3 L1904.2,767.5 L1908.2,770.8 L1912.2,774.0 L1916.2,777.3 L1920.2,780.6 L1924.2,783.9 L1928.2,787.2 L1932.2,790.5 L1936.2,793.8 L1940.2,797.2 L1944.2,800.5 L1948.2,803.9 L1952.2,807.2 L1956.2,810.6 L1960.2,814.0 L1964.2,817.4 L1968.2,820.8 L1972.2,824.2 L1976.2,827.6 L1980.2,831.0 L1984.2,834.5 L1988.2,837.9 L1992.2,841.3 L1996.2,844.8 L2000.2,848.2 L2004.2,851.7 L2008.2,855.1 L2012.2,858.6 L2016.2,862.0 L2020.2,865.5 L2024.2,868.9 L2028.2,872.4 L2032.2,875.9 L2036.2,879.3 L2040.2,882.8 L2044.2,886.3 L2048.2,889.7 L2052.2,893.2 L2056.2,896.7 L2060.2,900.1 L2064.2,903.6 L2068.2,907.0 L2072.2,910.5 L2076.2,914.0 L2080.2,917.4 L2084.2,920.8 L2088.2,924.3 L2092.2,927.7 L2096.2,931.1 L2100.2,934.6 L2104.2,938.0 L2108.2,941.4 L2112.2,944.8 L2116.2,948.2 L2120.2,951.6 L2124.2,955.0 L2128.2,958.3 L2132.2,961.7 L2136.2,965.0 L2140.2,968.4 L2144.2,971.7 L2148.2,975.0 L2152.2,978.4 L2156.2,981.7 L2160.2,984.9 L2164.2,988.2 L2168.2,991.5 L2172.2,994.7 L2176.2,998.0 L2180.2,1001.2 L2184.2,1004.4 L2188.2,1007.6 L2192.2,1010.8 L2196.2,1013.9 L2200.2,1017.1 L2204.2,1020.2 L2208.2,1023.3 L2212.2,1026.4 L2216.2,1029.5 L2220.2,1032.6 L2224.2,1035.6 L2228.2,1038.7 L2232.2,1041.7 L2236.2,1044.7 L2240.2,1047.6 L2244.2,1050.6 L2248.2,1053.5 L2252.2,1056.4 L2256.2,1059.3 L2260.2,1062.2 L2264.2,1065.0 L2268.2,1067.8 L2272.2,1070.6 L2276.2,1073.4 L2280.2,1076.2 L2284.2,1078.9 L2288.2,1081.6 L2292.2,1084.3 L2296.2,1086.9 L2300.2,1089.5 L2304.2,1092.1 L2308.2,1094.7 L2312.2,1097.2 L2316.2,1099.8 L2320.2,1102.2 L2324.2,1104.7 L2328.2,1107.1 L2332.2,1109.5 L2336.2,1111.9 L2340.2,1114.3 L2344.2,1116.6 L2348.2,1118.9 L2352.2,1121.1 L2356.2,1123.3 L2360.2,1125.5 L2364.2,1127.7 L2368.2,1129.8 L2368.3,1129.9" fill="none" stroke="#62A832" stroke-width="4.7" stroke-linejoin="round"/>
<path d="M240.2,1084.6 L244.2,1082.6 L248.2,1080.6 L252.2,1078.7 L256.2,1076.7 L260.2,1074.7 L264.2,1072.7 L268.2,1070.6 L272.2,1068.5 L276.2,1066.4 L280.2,1064.3 L284.2,1062.0 L288.2,1059.7 L292.2,1057.4 L296.2,1054.9 L300.2,1052.4 L304.2,1049.8 L308.2,1047.0 L312.2,1044.2 L316.2,1041.2 L320.2,1038.2 L324.2,1035.0 L328.2,1031.7 L332.2,1028.3 L336.2,1024.8 L340.2,1021.2 L344.2,1017.6 L348.2,1013.9 L352.2,1010.1 L356.2,1006.3 L360.2,1002.5 L364.2,998.6 L368.2,994.7 L372.2,990.8 L376.2,986.9 L380.2,983.0 L384.2,979.1 L388.2,975.2 L392.2,971.2 L396.2,967.3 L400.2,963.4 L404.2,959.5 L408.2,955.5 L412.2,951.6 L416.2,947.6 L420.2,943.6 L424.2,939.6 L428.2,935.5 L432.2,931.4 L436.2,927.3 L440.2,923.1 L444.2,918.8 L448.2,914.5 L452.2,910.1 L456.2,905.7 L460.2,901.2 L464.2,896.6 L468.2,891.9 L472.2,887.1 L476.2,882.3 L480.2,877.5 L484.2,872.6 L488.2,867.7 L492.2,862.8 L496.2,857.9 L500.2,852.9 L504.2,848.0 L508.2,843.1 L512.2,838.1 L516.2,833.2 L520.2,828.3 L524.2,823.3 L528.2,818.4 L532.2,813.4 L536.2,808.4 L540.2,803.5 L544.2,798.5 L548.2,793.6 L552.2,788.6 L556.2,783.7 L560.2,778.7 L564.2,773.8 L568.2,768.8 L572.2,763.9 L576.2,758.9 L580.2,754.0 L584.2,749.0 L588.2,744.1 L592.2,739.2 L596.2,734.3 L600.2,729.4 L604.2,724.5 L608.2,719.6 L612.2,714.7 L616.2,709.8 L620.2,705.0 L624.2,700.1 L628.2,695.3 L632.2,690.5 L636.2,685.7 L640.2,680.9 L644.2,676.1 L648.2,671.3 L652.2,666.6 L656.2,661.9 L660.2,657.2 L664.2,652.5 L668.2,647.8 L672.2,643.2 L676.2,638.6 L680.2,634.0 L684.2,629.4 L688.2,624.9 L692.2,620.4 L696.2,615.9 L700.2,611.5 L704.2,607.0 L708.2,602.7 L712.2,598.3 L716.2,594.0 L720.2,589.7 L724.2,585.4 L728.2,581.2 L732.2,577.0 L736.2,572.9 L740.2,568.7 L744.2,564.7 L748.2,560.6 L752.2,556.6 L756.2,552.6 L760.2,548.6 L764.2,544.7 L768.2,540.8 L772.2,537.0 L776.2,533.1 L780.2,529.3 L784.2,525.6 L788.2,521.8 L792.2,518.1 L796.2,514.5 L800.2,510.8 L804.2,507.2 L808.2,503.6 L812.2,500.1 L816.2,496.6 L820.2,493.1 L824.2,489.6 L828.2,486.2 L832.2,482.8 L836.2,479.4 L840.2,476.1 L844.2,472.8 L848.2,469.5 L852.2,466.3 L856.2,463.0 L860.2,459.9 L864.2,456.7 L868.2,453.6 L872.2,450.5 L876.2,447.4 L880.2,444.4 L884.2,441.4 L888.2,438.4 L892.2,435.5 L896.2,432.6 L900.2,429.7 L904.2,426.9 L908.2,424.1 L912.2,421.3 L916.2,418.6 L920.2,415.9 L924.2,413.2 L928.2,410.6 L932.2,408.0 L936.2,405.4 L940.2,402.9 L944.2,400.4 L948.2,397.9 L952.2,395.5 L956.2,393.1 L960.2,390.7 L964.2,388.4 L968.2,386.1 L972.2,383.9 L976.2,381.7 L980.2,379.5 L984.2,377.3 L988.2,375.2 L992.2,373.1 L996.2,371.1 L1000.2,369.1 L1004.2,367.2 L1008.2,365.2 L1012.2,363.3 L1016.2,361.5 L1020.2,359.7 L1024.2,357.9 L1028.2,356.2 L1032.2,354.5 L1036.2,352.8 L1040.2,351.2 L1044.2,349.6 L1048.2,348.1 L1052.2,346.6 L1056.2,345.1 L1060.2,343.7 L1064.2,342.3 L1068.2,340.9 L1072.2,339.6 L1076.2,338.4 L1080.2,337.2 L1084.2,336.0 L1088.2,334.8 L1092.2,333.7 L1096.2,332.7 L1100.2,331.6 L1104.2,330.7 L1108.2,329.7 L1112.2,328.8 L1116.2,328.0 L1120.2,327.2 L1124.2,326.4 L1128.2,325.7 L1132.2,325.0 L1136.2,324.3 L1140.2,323.7 L1144.2,323.2 L1148.2,322.7 L1152.2,322.2 L1156.2,321.8 L1160.2,321.4 L1164.2,321.0 L1168.2,320.7 L1172.2,320.5 L1176.2,320.3 L1180.2,320.1 L1184.2,320.0 L1188.2,319.9 L1192.2,319.8 L1196.2,319.8 L1200.2,319.9 L1204.2,319.9 L1208.2,320.1 L1212.2,320.2 L1216.2,320.4 L1220.2,320.7 L1224.2,320.9 L1228.2,321.2 L1232.2,321.6 L1236.2,322.0 L1240.2,322.4 L1244.2,322.9 L1248.2,323.4 L1252.2,324.0 L1256.2,324.5 L1260.2,325.2 L1264.2,325.8 L1268.2,326.5 L1272.2,327.3 L1276.2,328.0 L1280.2,328.8 L1284.2,329.7 L1288.2,330.6 L1292.2,331.5 L1296.2,332.4 L1300.2,333.4 L1304.2,334.5 L1308.2,335.5 L1312.2,336.6 L1316.2,337.7 L1320.2,338.9 L1324.2,340.1 L1328.2,341.4 L1332.2,342.6 L1336.2,343.9 L1340.2,345.3 L1344.2,346.6 L1348.2,348.0 L1352.2,349.5 L1356.2,350.9 L1360.2,352.4 L1364.2,354.0 L1368.2,355.5 L1372.2,357.1 L1376.2,358.8 L1380.2,360.4 L1384.2,362.1 L1388.2,363.9 L1392.2,365.6 L1396.2,367.4 L1400.2,369.2 L1404.2,371.1 L1408.2,372.9 L1412.2,374.8 L1416.2,376.8 L1420.2,378.8 L1424.2,380.7 L1428.2,382.8 L1432.2,384.8 L1436.2,386.9 L1440.2,389.0 L1444.2,391.2 L1448.2,393.3 L1452.2,395.5 L1456.2,397.8 L1460.2,400.0 L1464.2,402.3 L1468.2,404.6 L1472.2,406.9 L1476.2,409.3 L1480.2,411.7 L1484.2,414.1 L1488.2,416.5 L1492.2,419.0 L1496.2,421.5 L1500.2,424.0 L1504.2,426.5 L1508.2,429.1 L1512.2,431.7 L1516.2,434.3 L1520.2,436.9 L1524.2,439.6 L1528.2,442.3 L1532.2,445.0 L1536.2,447.7 L1540.2,450.5 L1544.2,453.3 L1548.2,456.1 L1552.2,458.9 L1556.2,461.8 L1560.2,464.6 L1564.2,467.5 L1568.2,470.4 L1572.2,473.4 L1576.2,476.3 L1580.2,479.3 L1584.2,482.3 L1588.2,485.3 L1592.2,488.3 L1596.2,491.3 L1600.2,494.4 L1604.2,497.4 L1608.2,500.5 L1612.2,503.6 L1616.2,506.7 L1620.2,509.8 L1624.2,512.9 L1628.2,516.1 L1632.2,519.2 L1636.2,522.4 L1640.2,525.6 L1644.2,528.7 L1648.2,531.9 L1652.2,535.1 L1656.2,538.3 L1660.2,541.5 L1664.2,544.7 L1668.2,548.0 L1672.2,551.2 L1676.2,554.4 L1680.2,557.6 L1684.2,560.9 L1688.2,564.1 L1692.2,567.4 L1696.2,570.6 L1700.2,573.8 L1704.2,577.1 L1708.2,580.3 L1712.2,583.6 L1716.2,586.8 L1720.2,590.0 L1724.2,593.3 L1728.2,596.5 L1732.2,599.8 L1736.2,603.0 L1740.2,606.3 L1744.2,609.5 L1748.2,612.8 L1752.2,616.0 L1756.2,619.3 L1760.2,622.5 L1764.2,625.8 L1768.2,629.1 L1772.2,632.3 L1776.2,635.6 L1780.2,638.9 L1784.2,642.1 L1788.2,645.4 L1792.2,648.7 L1796.2,652.0 L1800.2,655.3 L1804.2,658.6 L1808.2,661.9 L1812.2,665.2 L1816.2,668.5 L1820.2,671.8 L1824.2,675.1 L1828.2,678.4 L1832.2,681.8 L1836.2,685.1 L1840.2,688.4 L1844.2,691.8 L1848.2,695.1 L1852.2,698.5 L1856.2,701.8 L1860.2,705.2 L1864.2,708.6 L1868.2,711.9 L1872.2,715.3 L1876.2,718.7 L1880.2,722.1 L1884.2,725.5 L1888.2,728.9 L1892.2,732.3 L1896.2,735.7 L1900.2,739.1 L1904.2,742.5 L1908.2,745.9 L1912.2,749.3 L1916.2,752.8 L1920.2,756.2 L1924.2,759.6 L1928.2,763.0 L1932.2,766.4 L1936.2,769.9 L1940.2,773.3 L1944.2,776.7 L1948.2,780.1 L1952.2,783.6 L1956.2,787.0 L1960.2,790.4 L1964.2,793.8 L1968.2,797.2 L1972.2,800.5 L1976.2,803.9 L1980.2,807.2 L1984.2,810.5 L1988.2,813.8 L1992.2,817.1 L1996.2,820.3 L2000.2,823.5 L2004.2,826.7 L2008.2,829.8 L2012.2,832.9 L2016.2,836.0 L2020.2,839.0 L2024.2,842.0 L2028.2,844.9 L2032.2,847.8 L2036.2,850.7 L2040.2,853.5 L2044.2,856.3 L2048.2,859.1 L2052.2,861.9 L2056.2,864.6 L2060.2,867.3 L2064.2,870.0 L2068.2,872.6 L2072.2,875.3 L2076.2,877.9 L2080.2,880.5 L2084.2,883.0 L2088.2,885.6 L2092.2,888.1 L2096.2,890.7 L2100.2,893.2 L2104.2,895.7 L2108.2,898.2 L2112.2,900.7 L2116.2,903.2 L2120.2,905.7 L2124.2,908.2 L2128.2,910.7 L2132.2,913.2 L2136.2,915.6 L2140.2,918.1 L2144.2,920.6 L2148.2,923.0 L2152.2,925.5 L2156.2,927.9 L2160.2,930.4 L2164.2,932.8 L2168.2,935.2 L2172.2,937.6 L2176.2,940.0 L2180.2,942.4 L2184.2,944.8 L2188.2,947.2 L2192.2,949.5 L2196.2,951.8 L2200.2,954.2 L2204.2,956.5 L2208.2,958.8 L2212.2,961.0 L2216.2,963.3 L2220.2,965.5 L2224.2,967.7 L2228.2,969.9 L2232.2,972.1 L2236.2,974.3 L2240.2,976.4 L2244.2,978.5 L2248.2,980.6 L2252.2,982.7 L2256.2,984.7 L2260.2,986.7 L2264.2,988.7 L2268.2,990.7 L2272.2,992.6 L2276.2,994.6 L2280.2,996.4 L2284.2,998.3 L2288.2,1000.1 L2292.2,1001.9 L2296.2,1003.7 L2300.2,1005.4 L2304.2,1007.2 L2308.2,1008.8 L2312.2,1010.5 L2316.2,1012.1 L2320.2,1013.7 L2324.2,1015.2 L2328.2,1016.7 L2332.2,1018.2 L2336.2,1019.6 L2340.2,1021.0 L2344.2,1022.4 L2348.2,1023.7 L2352.2,1024.9 L2356.2,1026.2 L2360.2,1027.4 L2364.2,1028.5 L2368.2,1029.6 L2368.3,1029.7" fill="none" stroke="#4A8ED4" stroke-width="8.4" stroke-opacity="0.42" stroke-linejoin="round"/>
<path d="M240.2,1084.6 L244.2,1082.6 L248.2,1080.6 L252.2,1078.7 L256.2,1076.7 L260.2,1074.7 L264.2,1072.7 L268.2,1070.6 L272.2,1068.5 L276.2,1066.4 L280.2,1064.3 L284.2,1062.0 L288.2,1059.7 L292.2,1057.4 L296.2,1054.9 L300.2,1052.4 L304.2,1049.8 L308.2,1047.0 L312.2,1044.2 L316.2,1041.2 L320.2,1038.2 L324.2,1035.0 L328.2,1031.7 L332.2,1028.3 L336.2,1024.8 L340.2,1021.2 L344.2,1017.6 L348.2,1013.9 L352.2,1010.1 L356.2,1006.3 L360.2,1002.5 L364.2,998.6 L368.2,994.7 L372.2,990.8 L376.2,986.9 L380.2,983.0 L384.2,979.1 L388.2,975.2 L392.2,971.2 L396.2,967.3 L400.2,963.4 L404.2,959.5 L408.2,955.5 L412.2,951.6 L416.2,947.6 L420.2,943.6 L424.2,939.6 L428.2,935.5 L432.2,931.4 L436.2,927.3 L440.2,923.1 L444.2,918.8 L448.2,914.5 L452.2,910.1 L456.2,905.7 L460.2,901.2 L464.2,896.6 L468.2,891.9 L472.2,887.1 L476.2,882.3 L480.2,877.5 L484.2,872.6 L488.2,867.7 L492.2,862.8 L496.2,857.9 L500.2,852.9 L504.2,848.0 L508.2,843.1 L512.2,838.1 L516.2,833.2 L520.2,828.3 L524.2,823.3 L528.2,818.4 L532.2,813.4 L536.2,808.4 L540.2,803.5 L544.2,798.5 L548.2,793.6 L552.2,788.6 L556.2,783.7 L560.2,778.7 L564.2,773.8 L568.2,768.8 L572.2,763.9 L576.2,758.9 L580.2,754.0 L584.2,749.0 L588.2,744.1 L592.2,739.2 L596.2,734.3 L600.2,729.4 L604.2,724.5 L608.2,719.6 L612.2,714.7 L616.2,709.8 L620.2,705.0 L624.2,700.1 L628.2,695.3 L632.2,690.5 L636.2,685.7 L640.2,680.9 L644.2,676.1 L648.2,671.3 L652.2,666.6 L656.2,661.9 L660.2,657.2 L664.2,652.5 L668.2,647.8 L672.2,643.2 L676.2,638.6 L680.2,634.0 L684.2,629.4 L688.2,624.9 L692.2,620.4 L696.2,615.9 L700.2,611.5 L704.2,607.0 L708.2,602.7 L712.2,598.3 L716.2,594.0 L720.2,589.7 L724.2,585.4 L728.2,581.2 L732.2,577.0 L736.2,572.9 L740.2,568.7 L744.2,564.7 L748.2,560.6 L752.2,556.6 L756.2,552.6 L760.2,548.6 L764.2,544.7 L768.2,540.8 L772.2,537.0 L776.2,533.1 L780.2,529.3 L784.2,525.6 L788.2,521.8 L792.2,518.1 L796.2,514.5 L800.2,510.8 L804.2,507.2 L808.2,503.6 L812.2,500.1 L816.2,496.6 L820.2,493.1 L824.2,489.6 L828.2,486.2 L832.2,482.8 L836.2,479.4 L840.2,476.1 L844.2,472.8 L848.2,469.5 L852.2,466.3 L856.2,463.0 L860.2,459.9 L864.2,456.7 L868.2,453.6 L872.2,450.5 L876.2,447.4 L880.2,444.4 L884.2,441.4 L888.2,438.4 L892.2,435.5 L896.2,432.6 L900.2,429.7 L904.2,426.9 L908.2,424.1 L912.2,421.3 L916.2,418.6 L920.2,415.9 L924.2,413.2 L928.2,410.6 L932.2,408.0 L936.2,405.4 L940.2,402.9 L944.2,400.4 L948.2,397.9 L952.2,395.5 L956.2,393.1 L960.2,390.7 L964.2,388.4 L968.2,386.1 L972.2,383.9 L976.2,381.7 L980.2,379.5 L984.2,377.3 L988.2,375.2 L992.2,373.1 L996.2,371.1 L1000.2,369.1 L1004.2,367.2 L1008.2,365.2 L1012.2,363.3 L1016.2,361.5 L1020.2,359.7 L1024.2,357.9 L1028.2,356.2 L1032.2,354.5 L1036.2,352.8 L1040.2,351.2 L1044.2,349.6 L1048.2,348.1 L1052.2,346.6 L1056.2,345.1 L1060.2,343.7 L1064.2,342.3 L1068.2,340.9 L1072.2,339.6 L1076.2,338.4 L1080.2,337.2 L1084.2,336.0 L1088.2,334.8 L1092.2,333.7 L1096.2,332.7 L1100.2,331.6 L1104.2,330.7 L1108.2,329.7 L1112.2,328.8 L1116.2,328.0 L1120.2,327.2 L1124.2,326.4 L1128.2,325.7 L1132.2,325.0 L1136.2,324.3 L1140.2,323.7 L1144.2,323.2 L1148.2,322.7 L1152.2,322.2 L1156.2,321.8 L1160.2,321.4 L1164.2,321.0 L1168.2,320.7 L1172.2,320.5 L1176.2,320.3 L1180.2,320.1 L1184.2,320.0 L1188.2,319.9 L1192.2,319.8 L1196.2,319.8 L1200.2,319.9 L1204.2,319.9 L1208.2,320.1 L1212.2,320.2 L1216.2,320.4 L1220.2,320.7 L1224.2,320.9 L1228.2,321.2 L1232.2,321.6 L1236.2,322.0 L1240.2,322.4 L1244.2,322.9 L1248.2,323.4 L1252.2,324.0 L1256.2,324.5 L1260.2,325.2 L1264.2,325.8 L1268.2,326.5 L1272.2,327.3 L1276.2,328.0 L1280.2,328.8 L1284.2,329.7 L1288.2,330.6 L1292.2,331.5 L1296.2,332.4 L1300.2,333.4 L1304.2,334.5 L1308.2,335.5 L1312.2,336.6 L1316.2,337.7 L1320.2,338.9 L1324.2,340.1 L1328.2,341.4 L1332.2,342.6 L1336.2,343.9 L1340.2,345.3 L1344.2,346.6 L1348.2,348.0 L1352.2,349.5 L1356.2,350.9 L1360.2,352.4 L1364.2,354.0 L1368.2,355.5 L1372.2,357.1 L1376.2,358.8 L1380.2,360.4 L1384.2,362.1 L1388.2,363.9 L1392.2,365.6 L1396.2,367.4 L1400.2,369.2 L1404.2,371.1 L1408.2,372.9 L1412.2,374.8 L1416.2,376.8 L1420.2,378.8 L1424.2,380.7 L1428.2,382.8 L1432.2,384.8 L1436.2,386.9 L1440.2,389.0 L1444.2,391.2 L1448.2,393.3 L1452.2,395.5 L1456.2,397.8 L1460.2,400.0 L1464.2,402.3 L1468.2,404.6 L1472.2,406.9 L1476.2,409.3 L1480.2,411.7 L1484.2,414.1 L1488.2,416.5 L1492.2,419.0 L1496.2,421.5 L1500.2,424.0 L1504.2,426.5 L1508.2,429.1 L1512.2,431.7 L1516.2,434.3 L1520.2,436.9 L1524.2,439.6 L1528.2,442.3 L1532.2,445.0 L1536.2,447.7 L1540.2,450.5 L1544.2,453.3 L1548.2,456.1 L1552.2,458.9 L1556.2,461.8 L1560.2,464.6 L1564.2,467.5 L1568.2,470.4 L1572.2,473.4 L1576.2,476.3 L1580.2,479.3 L1584.2,482.3 L1588.2,485.3 L1592.2,488.3 L1596.2,491.3 L1600.2,494.4 L1604.2,497.4 L1608.2,500.5 L1612.2,503.6 L1616.2,506.7 L1620.2,509.8 L1624.2,512.9 L1628.2,516.1 L1632.2,519.2 L1636.2,522.4 L1640.2,525.6 L1644.2,528.7 L1648.2,531.9 L1652.2,535.1 L1656.2,538.3 L1660.2,541.5 L1664.2,544.7 L1668.2,548.0 L1672.2,551.2 L1676.2,554.4 L1680.2,557.6 L1684.2,560.9 L1688.2,564.1 L1692.2,567.4 L1696.2,570.6 L1700.2,573.8 L1704.2,577.1 L1708.2,580.3 L1712.2,583.6 L1716.2,586.8 L1720.2,590.0 L1724.2,593.3 L1728.2,596.5 L1732.2,599.8 L1736.2,603.0 L1740.2,606.3 L1744.2,609.5 L1748.2,612.8 L1752.2,616.0 L1756.2,619.3 L1760.2,622.5 L1764.2,625.8 L1768.2,629.1 L1772.2,632.3 L1776.2,635.6 L1780.2,638.9 L1784.2,642.1 L1788.2,645.4 L1792.2,648.7 L1796.2,652.0 L1800.2,655.3 L1804.2,658.6 L1808.2,661.9 L1812.2,665.2 L1816.2,668.5 L1820.2,671.8 L1824.2,675.1 L1828.2,678.4 L1832.2,681.8 L1836.2,685.1 L1840.2,688.4 L1844.2,691.8 L1848.2,695.1 L1852.2,698.5 L1856.2,701.8 L1860.2,705.2 L1864.2,708.6 L1868.2,711.9 L1872.2,715.3 L1876.2,718.7 L1880.2,722.1 L1884.2,725.5 L1888.2,728.9 L1892.2,732.3 L1896.2,735.7 L1900.2,739.1 L1904.2,742.5 L1908.2,745.9 L1912.2,749.3 L1916.2,752.8 L1920.2,756.2 L1924.2,759.6 L1928.2,763.0 L1932.2,766.4 L1936.2,769.9 L1940.2,773.3 L1944.2,776.7 L1948.2,780.1 L1952.2,783.6 L1956.2,787.0 L1960.2,790.4 L1964.2,793.8 L1968.2,797.2 L1972.2,800.5 L1976.2,803.9 L1980.2,807.2 L1984.2,810.5 L1988.2,813.8 L1992.2,817.1 L1996.2,820.3 L2000.2,823.5 L2004.2,826.7 L2008.2,829.8 L2012.2,832.9 L2016.2,836.0 L2020.2,839.0 L2024.2,842.0 L2028.2,844.9 L2032.2,847.8 L2036.2,850.7 L2040.2,853.5 L2044.2,856.3 L2048.2,859.1 L2052.2,861.9 L2056.2,864.6 L2060.2,867.3 L2064.2,870.0 L2068.2,872.6 L2072.2,875.3 L2076.2,877.9 L2080.2,880.5 L2084.2,883.0 L2088.2,885.6 L2092.2,888.1 L2096.2,890.7 L2100.2,893.2 L2104.2,895.7 L2108.2,898.2 L2112.2,900.7 L2116.2,903.2 L2120.2,905.7 L2124.2,908.2 L2128.2,910.7 L2132.2,913.2 L2136.2,915.6 L2140.2,918.1 L2144.2,920.6 L2148.2,923.0 L2152.2,925.5 L2156.2,927.9 L2160.2,930.4 L2164.2,932.8 L2168.2,935.2 L2172.2,937.6 L2176.2,940.0 L2180.2,942.4 L2184.2,944.8 L2188.2,947.2 L2192.2,949.5 L2196.2,951.8 L2200.2,954.2 L2204.2,956.5 L2208.2,958.8 L2212.2,961.0 L2216.2,963.3 L2220.2,965.5 L2224.2,967.7 L2228.2,969.9 L2232.2,972.1 L2236.2,974.3 L2240.2,976.4 L2244.2,978.5 L2248.2,980.6 L2252.2,982.7 L2256.2,984.7 L2260.2,986.7 L2264.2,988.7 L2268.2,990.7 L2272.2,992.6 L2276.2,994.6 L2280.2,996.4 L2284.2,998.3 L2288.2,1000.1 L2292.2,1001.9 L2296.2,1003.7 L2300.2,1005.4 L2304.2,1007.2 L2308.2,1008.8 L2312.2,1010.5 L2316.2,1012.1 L2320.2,1013.7 L2324.2,1015.2 L2328.2,1016.7 L2332.2,1018.2 L2336.2,1019.6 L2340.2,1021.0 L2344.2,1022.4 L2348.2,1023.7 L2352.2,1024.9 L2356.2,1026.2 L2360.2,1027.4 L2364.2,1028.5 L2368.2,1029.6 L2368.3,1029.7" fill="none" stroke="#4A8ED4" stroke-width="4.7" stroke-linejoin="round"/>
<path d="M240.2,1026.6 L244.2,1024.8 L248.2,1023.1 L252.2,1021.3 L256.2,1019.5 L260.2,1017.7 L264.2,1015.9 L268.2,1014.0 L272.2,1012.1 L276.2,1010.2 L280.2,1008.3 L284.2,1006.4 L288.2,1004.4 L292.2,1002.5 L296.2,1000.5 L300.2,998.5 L304.2,996.4 L308.2,994.4 L312.2,992.4 L316.2,990.3 L320.2,988.2 L324.2,986.1 L328.2,984.0 L332.2,981.8 L336.2,979.7 L340.2,977.5 L344.2,975.3 L348.2,973.1 L352.2,970.9 L356.2,968.7 L360.2,966.4 L364.2,964.2 L368.2,961.9 L372.2,959.6 L376.2,957.3 L380.2,955.0 L384.2,952.7 L388.2,950.4 L392.2,948.0 L396.2,945.6 L400.2,943.3 L404.2,940.9 L408.2,938.5 L412.2,936.1 L416.2,933.6 L420.2,931.2 L424.2,928.7 L428.2,926.3 L432.2,923.8 L436.2,921.3 L440.2,918.8 L444.2,916.3 L448.2,913.8 L452.2,911.3 L456.2,908.8 L460.2,906.2 L464.2,903.7 L468.2,901.1 L472.2,898.5 L476.2,896.0 L480.2,893.4 L484.2,890.8 L488.2,888.2 L492.2,885.6 L496.2,882.9 L500.2,880.3 L504.2,877.7 L508.2,875.0 L512.2,872.4 L516.2,869.7 L520.2,867.1 L524.2,864.4 L528.2,861.7 L532.2,859.0 L536.2,856.3 L540.2,853.7 L544.2,851.0 L548.2,848.3 L552.2,845.5 L556.2,842.8 L560.2,840.1 L564.2,837.4 L568.2,834.7 L572.2,831.9 L576.2,829.2 L580.2,826.5 L584.2,823.7 L588.2,821.0 L592.2,818.2 L596.2,815.5 L600.2,812.7 L604.2,810.0 L608.2,807.2 L612.2,804.4 L616.2,801.7 L620.2,798.9 L624.2,796.1 L628.2,793.4 L632.2,790.6 L636.2,787.8 L640.2,785.1 L644.2,782.3 L648.2,779.5 L652.2,776.8 L656.2,774.0 L660.2,771.2 L664.2,768.4 L668.2,765.7 L672.2,762.9 L676.2,760.1 L680.2,757.4 L684.2,754.6 L688.2,751.8 L692.2,749.1 L696.2,746.3 L700.2,743.6 L704.2,740.8 L708.2,738.1 L712.2,735.3 L716.2,732.6 L720.2,729.8 L724.2,727.1 L728.2,724.4 L732.2,721.6 L736.2,718.9 L740.2,716.2 L744.2,713.5 L748.2,710.7 L752.2,708.0 L756.2,705.3 L760.2,702.6 L764.2,699.9 L768.2,697.2 L772.2,694.6 L776.2,691.9 L780.2,689.2 L784.2,686.6 L788.2,683.9 L792.2,681.3 L796.2,678.6 L800.2,676.0 L804.2,673.3 L808.2,670.7 L812.2,668.1 L816.2,665.5 L820.2,662.9 L824.2,660.3 L828.2,657.7 L832.2,655.2 L836.2,652.6 L840.2,650.1 L844.2,647.5 L848.2,645.0 L852.2,642.5 L856.2,640.0 L860.2,637.4 L864.2,635.0 L868.2,632.5 L872.2,630.0 L876.2,627.5 L880.2,625.1 L884.2,622.7 L888.2,620.2 L892.2,617.8 L896.2,615.4 L900.2,613.0 L904.2,610.6 L908.2,608.3 L912.2,605.9 L916.2,603.6 L920.2,601.3 L924.2,599.0 L928.2,596.7 L932.2,594.4 L936.2,592.1 L940.2,589.8 L944.2,587.6 L948.2,585.4 L952.2,583.2 L956.2,581.0 L960.2,578.8 L964.2,576.6 L968.2,574.5 L972.2,572.3 L976.2,570.2 L980.2,568.1 L984.2,566.0 L988.2,563.9 L992.2,561.9 L996.2,559.8 L1000.2,557.8 L1004.2,555.8 L1008.2,553.8 L1012.2,551.9 L1016.2,549.9 L1020.2,548.0 L1024.2,546.1 L1028.2,544.2 L1032.2,542.3 L1036.2,540.4 L1040.2,538.6 L1044.2,536.8 L1048.2,535.0 L1052.2,533.2 L1056.2,531.4 L1060.2,529.7 L1064.2,528.0 L1068.2,526.3 L1072.2,524.6 L1076.2,523.0 L1080.2,521.3 L1084.2,519.7 L1088.2,518.1 L1092.2,516.5 L1096.2,515.0 L1100.2,513.5 L1104.2,512.0 L1108.2,510.5 L1112.2,509.0 L1116.2,507.6 L1120.2,506.2 L1124.2,504.8 L1128.2,503.4 L1132.2,502.1 L1136.2,500.7 L1140.2,499.4 L1144.2,498.2 L1148.2,496.9 L1152.2,495.7 L1156.2,494.5 L1160.2,493.3 L1164.2,492.2 L1168.2,491.1 L1172.2,490.0 L1176.2,488.9 L1180.2,487.9 L1184.2,486.8 L1188.2,485.8 L1192.2,484.9 L1196.2,483.9 L1200.2,483.0 L1204.2,482.2 L1208.2,481.3 L1212.2,480.5 L1216.2,479.7 L1220.2,478.9 L1224.2,478.1 L1228.2,477.4 L1232.2,476.7 L1236.2,476.1 L1240.2,475.4 L1244.2,474.8 L1248.2,474.2 L1252.2,473.7 L1256.2,473.1 L1260.2,472.6 L1264.2,472.2 L1268.2,471.7 L1272.2,471.3 L1276.2,470.9 L1280.2,470.5 L1284.2,470.2 L1288.2,469.9 L1292.2,469.6 L1296.2,469.4 L1300.2,469.1 L1304.2,468.9 L1308.2,468.8 L1312.2,468.6 L1316.2,468.5 L1320.2,468.4 L1324.2,468.3 L1328.2,468.3 L1332.2,468.3 L1336.2,468.3 L1340.2,468.4 L1344.2,468.5 L1348.2,468.6 L1352.2,468.7 L1356.2,468.9 L1360.2,469.0 L1364.2,469.3 L1368.2,469.5 L1372.2,469.8 L1376.2,470.1 L1380.2,470.4 L1384.2,470.8 L1388.2,471.1 L1392.2,471.6 L1396.2,472.0 L1400.2,472.5 L1404.2,473.0 L1408.2,473.5 L1412.2,474.0 L1416.2,474.6 L1420.2,475.2 L1424.2,475.9 L1428.2,476.5 L1432.2,477.2 L1436.2,477.9 L1440.2,478.7 L1444.2,479.5 L1448.2,480.3 L1452.2,481.1 L1456.2,482.0 L1460.2,482.8 L1464.2,483.8 L1468.2,484.7 L1472.2,485.7 L1476.2,486.7 L1480.2,487.7 L1484.2,488.8 L1488.2,489.9 L1492.2,491.0 L1496.2,492.1 L1500.2,493.3 L1504.2,494.5 L1508.2,495.7 L1512.2,497.0 L1516.2,498.3 L1520.2,499.6 L1524.2,500.9 L1528.2,502.3 L1532.2,503.7 L1536.2,505.1 L1540.2,506.6 L1544.2,508.1 L1548.2,509.6 L1552.2,511.2 L1556.2,512.7 L1560.2,514.3 L1564.2,516.0 L1568.2,517.6 L1572.2,519.3 L1576.2,521.0 L1580.2,522.8 L1584.2,524.6 L1588.2,526.4 L1592.2,528.2 L1596.2,530.1 L1600.2,531.9 L1604.2,533.9 L1608.2,535.8 L1612.2,537.8 L1616.2,539.8 L1620.2,541.8 L1624.2,543.9 L1628.2,546.0 L1632.2,548.1 L1636.2,550.3 L1640.2,552.5 L1644.2,554.7 L1648.2,556.9 L1652.2,559.2 L1656.2,561.5 L1660.2,563.8 L1664.2,566.1 L1668.2,568.5 L1672.2,570.9 L1676.2,573.4 L1680.2,575.8 L1684.2,578.3 L1688.2,580.8 L1692.2,583.4 L1696.2,585.9 L1700.2,588.5 L1704.2,591.1 L1708.2,593.8 L1712.2,596.4 L1716.2,599.1 L1720.2,601.9 L1724.2,604.6 L1728.2,607.4 L1732.2,610.1 L1736.2,613.0 L1740.2,615.8 L1744.2,618.6 L1748.2,621.5 L1752.2,624.4 L1756.2,627.3 L1760.2,630.3 L1764.2,633.3 L1768.2,636.2 L1772.2,639.3 L1776.2,642.3 L1780.2,645.3 L1784.2,648.4 L1788.2,651.5 L1792.2,654.6 L1796.2,657.8 L1800.2,660.9 L1804.2,664.1 L1808.2,667.3 L1812.2,670.5 L1816.2,673.7 L1820.2,677.0 L1824.2,680.2 L1828.2,683.5 L1832.2,686.8 L1836.2,690.1 L1840.2,693.5 L1844.2,696.8 L1848.2,700.2 L1852.2,703.6 L1856.2,707.0 L1860.2,710.4 L1864.2,713.8 L1868.2,717.3 L1872.2,720.7 L1876.2,724.2 L1880.2,727.7 L1884.2,731.2 L1888.2,734.8 L1892.2,738.3 L1896.2,741.8 L1900.2,745.4 L1904.2,749.0 L1908.2,752.6 L1912.2,756.2 L1916.2,759.8 L1920.2,763.4 L1924.2,767.1 L1928.2,770.7 L1932.2,774.4 L1936.2,778.0 L1940.2,781.7 L1944.2,785.4 L1948.2,789.1 L1952.2,792.8 L1956.2,796.5 L1960.2,800.2 L1964.2,804.0 L1968.2,807.7 L1972.2,811.5 L1976.2,815.2 L1980.2,819.0 L1984.2,822.7 L1988.2,826.5 L1992.2,830.2 L1996.2,834.0 L2000.2,837.8 L2004.2,841.6 L2008.2,845.4 L2012.2,849.1 L2016.2,852.9 L2020.2,856.7 L2024.2,860.5 L2028.2,864.3 L2032.2,868.1 L2036.2,871.9 L2040.2,875.7 L2044.2,879.5 L2048.2,883.2 L2052.2,887.0 L2056.2,890.8 L2060.2,894.6 L2064.2,898.4 L2068.2,902.1 L2072.2,905.9 L2076.2,909.7 L2080.2,913.4 L2084.2,917.2 L2088.2,921.0 L2092.2,924.7 L2096.2,928.4 L2100.2,932.2 L2104.2,935.9 L2108.2,939.6 L2112.2,943.3 L2116.2,947.0 L2120.2,950.7 L2124.2,954.4 L2128.2,958.1 L2132.2,961.8 L2136.2,965.4 L2140.2,969.1 L2144.2,972.7 L2148.2,976.3 L2152.2,980.0 L2156.2,983.6 L2160.2,987.2 L2164.2,990.7 L2168.2,994.3 L2172.2,997.8 L2176.2,1001.4 L2180.2,1004.9 L2184.2,1008.4 L2188.2,1011.9 L2192.2,1015.4 L2196.2,1018.8 L2200.2,1022.3 L2204.2,1025.7 L2208.2,1029.1 L2212.2,1032.5 L2216.2,1035.9 L2220.2,1039.2 L2224.2,1042.6 L2228.2,1045.9 L2232.2,1049.2 L2236.2,1052.4 L2240.2,1055.7 L2244.2,1058.9 L2248.2,1062.1 L2252.2,1065.3 L2256.2,1068.5 L2260.2,1071.6 L2264.2,1074.8 L2268.2,1077.9 L2272.2,1080.9 L2276.2,1084.0 L2280.2,1087.0 L2284.2,1090.0 L2288.2,1093.0 L2292.2,1095.9 L2296.2,1098.9 L2300.2,1101.8 L2304.2,1104.6 L2308.2,1107.5 L2312.2,1110.3 L2316.2,1113.1 L2320.2,1115.8 L2324.2,1118.6 L2328.2,1121.3 L2332.2,1123.9 L2336.2,1126.6 L2340.2,1129.2 L2344.2,1131.8 L2348.2,1134.3 L2352.2,1136.8 L2356.2,1139.3 L2360.2,1141.8 L2364.2,1144.2 L2368.2,1146.6 L2368.3,1146.6" fill="none" stroke="#FFBE10" stroke-width="8.4" stroke-opacity="0.42" stroke-linejoin="round"/>
<path d="M240.2,1026.6 L244.2,1024.8 L248.2,1023.1 L252.2,1021.3 L256.2,1019.5 L260.2,1017.7 L264.2,1015.9 L268.2,1014.0 L272.2,1012.1 L276.2,1010.2 L280.2,1008.3 L284.2,1006.4 L288.2,1004.4 L292.2,1002.5 L296.2,1000.5 L300.2,998.5 L304.2,996.4 L308.2,994.4 L312.2,992.4 L316.2,990.3 L320.2,988.2 L324.2,986.1 L328.2,984.0 L332.2,981.8 L336.2,979.7 L340.2,977.5 L344.2,975.3 L348.2,973.1 L352.2,970.9 L356.2,968.7 L360.2,966.4 L364.2,964.2 L368.2,961.9 L372.2,959.6 L376.2,957.3 L380.2,955.0 L384.2,952.7 L388.2,950.4 L392.2,948.0 L396.2,945.6 L400.2,943.3 L404.2,940.9 L408.2,938.5 L412.2,936.1 L416.2,933.6 L420.2,931.2 L424.2,928.7 L428.2,926.3 L432.2,923.8 L436.2,921.3 L440.2,918.8 L444.2,916.3 L448.2,913.8 L452.2,911.3 L456.2,908.8 L460.2,906.2 L464.2,903.7 L468.2,901.1 L472.2,898.5 L476.2,896.0 L480.2,893.4 L484.2,890.8 L488.2,888.2 L492.2,885.6 L496.2,882.9 L500.2,880.3 L504.2,877.7 L508.2,875.0 L512.2,872.4 L516.2,869.7 L520.2,867.1 L524.2,864.4 L528.2,861.7 L532.2,859.0 L536.2,856.3 L540.2,853.7 L544.2,851.0 L548.2,848.3 L552.2,845.5 L556.2,842.8 L560.2,840.1 L564.2,837.4 L568.2,834.7 L572.2,831.9 L576.2,829.2 L580.2,826.5 L584.2,823.7 L588.2,821.0 L592.2,818.2 L596.2,815.5 L600.2,812.7 L604.2,810.0 L608.2,807.2 L612.2,804.4 L616.2,801.7 L620.2,798.9 L624.2,796.1 L628.2,793.4 L632.2,790.6 L636.2,787.8 L640.2,785.1 L644.2,782.3 L648.2,779.5 L652.2,776.8 L656.2,774.0 L660.2,771.2 L664.2,768.4 L668.2,765.7 L672.2,762.9 L676.2,760.1 L680.2,757.4 L684.2,754.6 L688.2,751.8 L692.2,749.1 L696.2,746.3 L700.2,743.6 L704.2,740.8 L708.2,738.1 L712.2,735.3 L716.2,732.6 L720.2,729.8 L724.2,727.1 L728.2,724.4 L732.2,721.6 L736.2,718.9 L740.2,716.2 L744.2,713.5 L748.2,710.7 L752.2,708.0 L756.2,705.3 L760.2,702.6 L764.2,699.9 L768.2,697.2 L772.2,694.6 L776.2,691.9 L780.2,689.2 L784.2,686.6 L788.2,683.9 L792.2,681.3 L796.2,678.6 L800.2,676.0 L804.2,673.3 L808.2,670.7 L812.2,668.1 L816.2,665.5 L820.2,662.9 L824.2,660.3 L828.2,657.7 L832.2,655.2 L836.2,652.6 L840.2,650.1 L844.2,647.5 L848.2,645.0 L852.2,642.5 L856.2,640.0 L860.2,637.4 L864.2,635.0 L868.2,632.5 L872.2,630.0 L876.2,627.5 L880.2,625.1 L884.2,622.7 L888.2,620.2 L892.2,617.8 L896.2,615.4 L900.2,613.0 L904.2,610.6 L908.2,608.3 L912.2,605.9 L916.2,603.6 L920.2,601.3 L924.2,599.0 L928.2,596.7 L932.2,594.4 L936.2,592.1 L940.2,589.8 L944.2,587.6 L948.2,585.4 L952.2,583.2 L956.2,581.0 L960.2,578.8 L964.2,576.6 L968.2,574.5 L972.2,572.3 L976.2,570.2 L980.2,568.1 L984.2,566.0 L988.2,563.9 L992.2,561.9 L996.2,559.8 L1000.2,557.8 L1004.2,555.8 L1008.2,553.8 L1012.2,551.9 L1016.2,549.9 L1020.2,548.0 L1024.2,546.1 L1028.2,544.2 L1032.2,542.3 L1036.2,540.4 L1040.2,538.6 L1044.2,536.8 L1048.2,535.0 L1052.2,533.2 L1056.2,531.4 L1060.2,529.7 L1064.2,528.0 L1068.2,526.3 L1072.2,524.6 L1076.2,523.0 L1080.2,521.3 L1084.2,519.7 L1088.2,518.1 L1092.2,516.5 L1096.2,515.0 L1100.2,513.5 L1104.2,512.0 L1108.2,510.5 L1112.2,509.0 L1116.2,507.6 L1120.2,506.2 L1124.2,504.8 L1128.2,503.4 L1132.2,502.1 L1136.2,500.7 L1140.2,499.4 L1144.2,498.2 L1148.2,496.9 L1152.2,495.7 L1156.2,494.5 L1160.2,493.3 L1164.2,492.2 L1168.2,491.1 L1172.2,490.0 L1176.2,488.9 L1180.2,487.9 L1184.2,486.8 L1188.2,485.8 L1192.2,484.9 L1196.2,483.9 L1200.2,483.0 L1204.2,482.2 L1208.2,481.3 L1212.2,480.5 L1216.2,479.7 L1220.2,478.9 L1224.2,478.1 L1228.2,477.4 L1232.2,476.7 L1236.2,476.1 L1240.2,475.4 L1244.2,474.8 L1248.2,474.2 L1252.2,473.7 L1256.2,473.1 L1260.2,472.6 L1264.2,472.2 L1268.2,471.7 L1272.2,471.3 L1276.2,470.9 L1280.2,470.5 L1284.2,470.2 L1288.2,469.9 L1292.2,469.6 L1296.2,469.4 L1300.2,469.1 L1304.2,468.9 L1308.2,468.8 L1312.2,468.6 L1316.2,468.5 L1320.2,468.4 L1324.2,468.3 L1328.2,468.3 L1332.2,468.3 L1336.2,468.3 L1340.2,468.4 L1344.2,468.5 L1348.2,468.6 L1352.2,468.7 L1356.2,468.9 L1360.2,469.0 L1364.2,469.3 L1368.2,469.5 L1372.2,469.8 L1376.2,470.1 L1380.2,470.4 L1384.2,470.8 L1388.2,471.1 L1392.2,471.6 L1396.2,472.0 L1400.2,472.5 L1404.2,473.0 L1408.2,473.5 L1412.2,474.0 L1416.2,474.6 L1420.2,475.2 L1424.2,475.9 L1428.2,476.5 L1432.2,477.2 L1436.2,477.9 L1440.2,478.7 L1444.2,479.5 L1448.2,480.3 L1452.2,481.1 L1456.2,482.0 L1460.2,482.8 L1464.2,483.8 L1468.2,484.7 L1472.2,485.7 L1476.2,486.7 L1480.2,487.7 L1484.2,488.8 L1488.2,489.9 L1492.2,491.0 L1496.2,492.1 L1500.2,493.3 L1504.2,494.5 L1508.2,495.7 L1512.2,497.0 L1516.2,498.3 L1520.2,499.6 L1524.2,500.9 L1528.2,502.3 L1532.2,503.7 L1536.2,505.1 L1540.2,506.6 L1544.2,508.1 L1548.2,509.6 L1552.2,511.2 L1556.2,512.7 L1560.2,514.3 L1564.2,516.0 L1568.2,517.6 L1572.2,519.3 L1576.2,521.0 L1580.2,522.8 L1584.2,524.6 L1588.2,526.4 L1592.2,528.2 L1596.2,530.1 L1600.2,531.9 L1604.2,533.9 L1608.2,535.8 L1612.2,537.8 L1616.2,539.8 L1620.2,541.8 L1624.2,543.9 L1628.2,546.0 L1632.2,548.1 L1636.2,550.3 L1640.2,552.5 L1644.2,554.7 L1648.2,556.9 L1652.2,559.2 L1656.2,561.5 L1660.2,563.8 L1664.2,566.1 L1668.2,568.5 L1672.2,570.9 L1676.2,573.4 L1680.2,575.8 L1684.2,578.3 L1688.2,580.8 L1692.2,583.4 L1696.2,585.9 L1700.2,588.5 L1704.2,591.1 L1708.2,593.8 L1712.2,596.4 L1716.2,599.1 L1720.2,601.9 L1724.2,604.6 L1728.2,607.4 L1732.2,610.1 L1736.2,613.0 L1740.2,615.8 L1744.2,618.6 L1748.2,621.5 L1752.2,624.4 L1756.2,627.3 L1760.2,630.3 L1764.2,633.3 L1768.2,636.2 L1772.2,639.3 L1776.2,642.3 L1780.2,645.3 L1784.2,648.4 L1788.2,651.5 L1792.2,654.6 L1796.2,657.8 L1800.2,660.9 L1804.2,664.1 L1808.2,667.3 L1812.2,670.5 L1816.2,673.7 L1820.2,677.0 L1824.2,680.2 L1828.2,683.5 L1832.2,686.8 L1836.2,690.1 L1840.2,693.5 L1844.2,696.8 L1848.2,700.2 L1852.2,703.6 L1856.2,707.0 L1860.2,710.4 L1864.2,713.8 L1868.2,717.3 L1872.2,720.7 L1876.2,724.2 L1880.2,727.7 L1884.2,731.2 L1888.2,734.8 L1892.2,738.3 L1896.2,741.8 L1900.2,745.4 L1904.2,749.0 L1908.2,752.6 L1912.2,756.2 L1916.2,759.8 L1920.2,763.4 L1924.2,767.1 L1928.2,770.7 L1932.2,774.4 L1936.2,778.0 L1940.2,781.7 L1944.2,785.4 L1948.2,789.1 L1952.2,792.8 L1956.2,796.5 L1960.2,800.2 L1964.2,804.0 L1968.2,807.7 L1972.2,811.5 L1976.2,815.2 L1980.2,819.0 L1984.2,822.7 L1988.2,826.5 L1992.2,830.2 L1996.2,834.0 L2000.2,837.8 L2004.2,841.6 L2008.2,845.4 L2012.2,849.1 L2016.2,852.9 L2020.2,856.7 L2024.2,860.5 L2028.2,864.3 L2032.2,868.1 L2036.2,871.9 L2040.2,875.7 L2044.2,879.5 L2048.2,883.2 L2052.2,887.0 L2056.2,890.8 L2060.2,894.6 L2064.2,898.4 L2068.2,902.1 L2072.2,905.9 L2076.2,909.7 L2080.2,913.4 L2084.2,917.2 L2088.2,921.0 L2092.2,924.7 L2096.2,928.4 L2100.2,932.2 L2104.2,935.9 L2108.2,939.6 L2112.2,943.3 L2116.2,947.0 L2120.2,950.7 L2124.2,954.4 L2128.2,958.1 L2132.2,961.8 L2136.2,965.4 L2140.2,969.1 L2144.2,972.7 L2148.2,976.3 L2152.2,980.0 L2156.2,983.6 L2160.2,987.2 L2164.2,990.7 L2168.2,994.3 L2172.2,997.8 L2176.2,1001.4 L2180.2,1004.9 L2184.2,1008.4 L2188.2,1011.9 L2192.2,1015.4 L2196.2,1018.8 L2200.2,1022.3 L2204.2,1025.7 L2208.2,1029.1 L2212.2,1032.5 L2216.2,1035.9 L2220.2,1039.2 L2224.2,1042.6 L2228.2,1045.9 L2232.2,1049.2 L2236.2,1052.4 L2240.2,1055.7 L2244.2,1058.9 L2248.2,1062.1 L2252.2,1065.3 L2256.2,1068.5 L2260.2,1071.6 L2264.2,1074.8 L2268.2,1077.9 L2272.2,1080.9 L2276.2,1084.0 L2280.2,1087.0 L2284.2,1090.0 L2288.2,1093.0 L2292.2,1095.9 L2296.2,1098.9 L2300.2,1101.8 L2304.2,1104.6 L2308.2,1107.5 L2312.2,1110.3 L2316.2,1113.1 L2320.2,1115.8 L2324.2,1118.6 L2328.2,1121.3 L2332.2,1123.9 L2336.2,1126.6 L2340.2,1129.2 L2344.2,1131.8 L2348.2,1134.3 L2352.2,1136.8 L2356.2,1139.3 L2360.2,1141.8 L2364.2,1144.2 L2368.2,1146.6 L2368.3,1146.6" fill="none" stroke="#FFBE10" stroke-width="4.7" stroke-linejoin="round"/>
<path d="M240.2,1045.9 L244.2,1043.6 L248.2,1041.2 L252.2,1038.9 L256.2,1036.6 L260.2,1034.2 L264.2,1031.9 L268.2,1029.5 L272.2,1027.2 L276.2,1024.8 L280.2,1022.5 L284.2,1020.1 L288.2,1017.7 L292.2,1015.4 L296.2,1013.0 L300.2,1010.6 L304.2,1008.2 L308.2,1005.8 L312.2,1003.4 L316.2,1000.9 L320.2,998.5 L324.2,996.1 L328.2,993.6 L332.2,991.1 L336.2,988.7 L340.2,986.2 L344.2,983.7 L348.2,981.2 L352.2,978.6 L356.2,976.1 L360.2,973.5 L364.2,971.0 L368.2,968.4 L372.2,965.8 L376.2,963.1 L380.2,960.5 L384.2,957.9 L388.2,955.2 L392.2,952.5 L396.2,949.8 L400.2,947.0 L404.2,944.3 L408.2,941.5 L412.2,938.7 L416.2,935.9 L420.2,933.1 L424.2,930.2 L428.2,927.4 L432.2,924.5 L436.2,921.5 L440.2,918.6 L444.2,915.6 L448.2,912.6 L452.2,909.6 L456.2,906.5 L460.2,903.5 L464.2,900.4 L468.2,897.2 L472.2,894.1 L476.2,890.9 L480.2,887.7 L484.2,884.4 L488.2,881.1 L492.2,877.8 L496.2,874.5 L500.2,871.1 L504.2,867.7 L508.2,864.3 L512.2,860.9 L516.2,857.5 L520.2,854.0 L524.2,850.5 L528.2,847.1 L532.2,843.6 L536.2,840.1 L540.2,836.6 L544.2,833.0 L548.2,829.5 L552.2,826.0 L556.2,822.5 L560.2,819.0 L564.2,815.5 L568.2,812.0 L572.2,808.5 L576.2,805.0 L580.2,801.6 L584.2,798.1 L588.2,794.7 L592.2,791.3 L596.2,787.9 L600.2,784.5 L604.2,781.2 L608.2,777.8 L612.2,774.5 L616.2,771.2 L620.2,767.9 L624.2,764.7 L628.2,761.4 L632.2,758.2 L636.2,754.9 L640.2,751.7 L644.2,748.5 L648.2,745.3 L652.2,742.1 L656.2,738.9 L660.2,735.7 L664.2,732.5 L668.2,729.3 L672.2,726.0 L676.2,722.8 L680.2,719.6 L684.2,716.4 L688.2,713.1 L692.2,709.9 L696.2,706.7 L700.2,703.4 L704.2,700.1 L708.2,696.8 L712.2,693.5 L716.2,690.2 L720.2,686.8 L724.2,683.4 L728.2,680.0 L732.2,676.6 L736.2,673.2 L740.2,669.7 L744.2,666.3 L748.2,662.8 L752.2,659.3 L756.2,655.8 L760.2,652.3 L764.2,648.8 L768.2,645.2 L772.2,641.7 L776.2,638.2 L780.2,634.7 L784.2,631.2 L788.2,627.7 L792.2,624.2 L796.2,620.7 L800.2,617.2 L804.2,613.8 L808.2,610.3 L812.2,606.9 L816.2,603.5 L820.2,600.1 L824.2,596.8 L828.2,593.5 L832.2,590.2 L836.2,586.9 L840.2,583.7 L844.2,580.5 L848.2,577.3 L852.2,574.2 L856.2,571.0 L860.2,567.9 L864.2,564.8 L868.2,561.7 L872.2,558.7 L876.2,555.6 L880.2,552.6 L884.2,549.6 L888.2,546.5 L892.2,543.5 L896.2,540.5 L900.2,537.6 L904.2,534.6 L908.2,531.6 L912.2,528.6 L916.2,525.7 L920.2,522.7 L924.2,519.7 L928.2,516.8 L932.2,513.8 L936.2,510.9 L940.2,507.9 L944.2,505.0 L948.2,502.1 L952.2,499.2 L956.2,496.3 L960.2,493.4 L964.2,490.6 L968.2,487.7 L972.2,484.9 L976.2,482.1 L980.2,479.3 L984.2,476.6 L988.2,473.8 L992.2,471.1 L996.2,468.4 L1000.2,465.7 L1004.2,463.0 L1008.2,460.3 L1012.2,457.7 L1016.2,455.1 L1020.2,452.5 L1024.2,449.9 L1028.2,447.3 L1032.2,444.8 L1036.2,442.2 L1040.2,439.7 L1044.2,437.2 L1048.2,434.8 L1052.2,432.3 L1056.2,429.9 L1060.2,427.5 L1064.2,425.1 L1068.2,422.8 L1072.2,420.4 L1076.2,418.1 L1080.2,415.8 L1084.2,413.6 L1088.2,411.3 L1092.2,409.1 L1096.2,406.9 L1100.2,404.7 L1104.2,402.5 L1108.2,400.4 L1112.2,398.3 L1116.2,396.2 L1120.2,394.2 L1124.2,392.1 L1128.2,390.1 L1132.2,388.1 L1136.2,386.2 L1140.2,384.3 L1144.2,382.3 L1148.2,380.5 L1152.2,378.6 L1156.2,376.8 L1160.2,375.0 L1164.2,373.2 L1168.2,371.5 L1172.2,369.7 L1176.2,368.0 L1180.2,366.4 L1184.2,364.7 L1188.2,363.1 L1192.2,361.5 L1196.2,360.0 L1200.2,358.5 L1204.2,357.0 L1208.2,355.5 L1212.2,354.1 L1216.2,352.7 L1220.2,351.3 L1224.2,349.9 L1228.2,348.6 L1232.2,347.3 L1236.2,346.1 L1240.2,344.8 L1244.2,343.7 L1248.2,342.5 L1252.2,341.4 L1256.2,340.3 L1260.2,339.2 L1264.2,338.1 L1268.2,337.1 L1272.2,336.2 L1276.2,335.2 L1280.2,334.3 L1284.2,333.5 L1288.2,332.6 L1292.2,331.8 L1296.2,331.0 L1300.2,330.3 L1304.2,329.6 L1308.2,328.9 L1312.2,328.3 L1316.2,327.7 L1320.2,327.1 L1324.2,326.6 L1328.2,326.1 L1332.2,325.6 L1336.2,325.2 L1340.2,324.8 L1344.2,324.4 L1348.2,324.1 L1352.2,323.8 L1356.2,323.5 L1360.2,323.3 L1364.2,323.1 L1368.2,323.0 L1372.2,322.8 L1376.2,322.7 L1380.2,322.7 L1384.2,322.7 L1388.2,322.7 L1392.2,322.7 L1396.2,322.8 L1400.2,322.9 L1404.2,323.1 L1408.2,323.2 L1412.2,323.5 L1416.2,323.7 L1420.2,324.0 L1424.2,324.3 L1428.2,324.7 L1432.2,325.0 L1436.2,325.5 L1440.2,325.9 L1444.2,326.4 L1448.2,326.9 L1452.2,327.5 L1456.2,328.1 L1460.2,328.7 L1464.2,329.4 L1468.2,330.0 L1472.2,330.8 L1476.2,331.5 L1480.2,332.3 L1484.2,333.2 L1488.2,334.0 L1492.2,334.9 L1496.2,335.8 L1500.2,336.8 L1504.2,337.8 L1508.2,338.8 L1512.2,339.9 L1516.2,341.0 L1520.2,342.1 L1524.2,343.3 L1528.2,344.5 L1532.2,345.8 L1536.2,347.0 L1540.2,348.3 L1544.2,349.7 L1548.2,351.0 L1552.2,352.4 L1556.2,353.9 L1560.2,355.4 L1564.2,356.9 L1568.2,358.4 L1572.2,360.0 L1576.2,361.6 L1580.2,363.2 L1584.2,364.9 L1588.2,366.6 L1592.2,368.4 L1596.2,370.2 L1600.2,372.0 L1604.2,373.8 L1608.2,375.7 L1612.2,377.6 L1616.2,379.6 L1620.2,381.5 L1624.2,383.6 L1628.2,385.6 L1632.2,387.7 L1636.2,389.8 L1640.2,392.0 L1644.2,394.2 L1648.2,396.4 L1652.2,398.6 L1656.2,400.9 L1660.2,403.3 L1664.2,405.6 L1668.2,408.0 L1672.2,410.4 L1676.2,412.9 L1680.2,415.4 L1684.2,417.9 L1688.2,420.5 L1692.2,423.1 L1696.2,425.7 L1700.2,428.3 L1704.2,431.0 L1708.2,433.8 L1712.2,436.5 L1716.2,439.3 L1720.2,442.2 L1724.2,445.0 L1728.2,447.9 L1732.2,450.9 L1736.2,453.8 L1740.2,456.8 L1744.2,459.9 L1748.2,462.9 L1752.2,466.0 L1756.2,469.2 L1760.2,472.3 L1764.2,475.5 L1768.2,478.7 L1772.2,482.0 L1776.2,485.3 L1780.2,488.6 L1784.2,491.9 L1788.2,495.3 L1792.2,498.7 L1796.2,502.1 L1800.2,505.5 L1804.2,509.0 L1808.2,512.5 L1812.2,516.0 L1816.2,519.6 L1820.2,523.1 L1824.2,526.7 L1828.2,530.4 L1832.2,534.0 L1836.2,537.7 L1840.2,541.4 L1844.2,545.1 L1848.2,548.8 L1852.2,552.6 L1856.2,556.4 L1860.2,560.2 L1864.2,564.0 L1868.2,567.8 L1872.2,571.7 L1876.2,575.6 L1880.2,579.5 L1884.2,583.4 L1888.2,587.3 L1892.2,591.3 L1896.2,595.2 L1900.2,599.2 L1904.2,603.2 L1908.2,607.2 L1912.2,611.2 L1916.2,615.3 L1920.2,619.3 L1924.2,623.4 L1928.2,627.5 L1932.2,631.6 L1936.2,635.7 L1940.2,639.8 L1944.2,644.0 L1948.2,648.1 L1952.2,652.3 L1956.2,656.5 L1960.2,660.6 L1964.2,664.8 L1968.2,669.0 L1972.2,673.2 L1976.2,677.5 L1980.2,681.7 L1984.2,685.9 L1988.2,690.2 L1992.2,694.4 L1996.2,698.7 L2000.2,702.9 L2004.2,707.2 L2008.2,711.5 L2012.2,715.8 L2016.2,720.1 L2020.2,724.3 L2024.2,728.6 L2028.2,732.9 L2032.2,737.3 L2036.2,741.6 L2040.2,745.9 L2044.2,750.2 L2048.2,754.5 L2052.2,758.9 L2056.2,763.2 L2060.2,767.5 L2064.2,771.9 L2068.2,776.3 L2072.2,780.6 L2076.2,785.0 L2080.2,789.4 L2084.2,793.7 L2088.2,798.1 L2092.2,802.5 L2096.2,806.9 L2100.2,811.3 L2104.2,815.7 L2108.2,820.1 L2112.2,824.6 L2116.2,829.0 L2120.2,833.4 L2124.2,837.9 L2128.2,842.3 L2132.2,846.8 L2136.2,851.3 L2140.2,855.7 L2144.2,860.2 L2148.2,864.7 L2152.2,869.2 L2156.2,873.7 L2160.2,878.2 L2164.2,882.7 L2168.2,887.2 L2172.2,891.7 L2176.2,896.2 L2180.2,900.7 L2184.2,905.2 L2188.2,909.7 L2192.2,914.2 L2196.2,918.6 L2200.2,923.1 L2204.2,927.5 L2208.2,931.9 L2212.2,936.3 L2216.2,940.7 L2220.2,945.0 L2224.2,949.4 L2228.2,953.7 L2232.2,957.9 L2236.2,962.2 L2240.2,966.4 L2244.2,970.6 L2248.2,974.7 L2252.2,978.9 L2256.2,982.9 L2260.2,987.0 L2264.2,991.1 L2268.2,995.1 L2272.2,999.0 L2276.2,1003.0 L2280.2,1006.9 L2284.2,1010.8 L2288.2,1014.6 L2292.2,1018.4 L2296.2,1022.2 L2300.2,1026.0 L2304.2,1029.7 L2308.2,1033.3 L2312.2,1037.0 L2316.2,1040.6 L2320.2,1044.2 L2324.2,1047.7 L2328.2,1051.2 L2332.2,1054.6 L2336.2,1058.0 L2340.2,1061.4 L2344.2,1064.7 L2348.2,1068.0 L2352.2,1071.3 L2356.2,1074.5 L2360.2,1077.7 L2364.2,1080.8 L2368.2,1083.9 L2368.3,1084.0" fill="none" stroke="#5F1D9C" stroke-width="8.4" stroke-opacity="0.42" stroke-linejoin="round"/>
<path d="M240.2,1045.9 L244.2,1043.6 L248.2,1041.2 L252.2,1038.9 L256.2,1036.6 L260.2,1034.2 L264.2,1031.9 L268.2,1029.5 L272.2,1027.2 L276.2,1024.8 L280.2,1022.5 L284.2,1020.1 L288.2,1017.7 L292.2,1015.4 L296.2,1013.0 L300.2,1010.6 L304.2,1008.2 L308.2,1005.8 L312.2,1003.4 L316.2,1000.9 L320.2,998.5 L324.2,996.1 L328.2,993.6 L332.2,991.1 L336.2,988.7 L340.2,986.2 L344.2,983.7 L348.2,981.2 L352.2,978.6 L356.2,976.1 L360.2,973.5 L364.2,971.0 L368.2,968.4 L372.2,965.8 L376.2,963.1 L380.2,960.5 L384.2,957.9 L388.2,955.2 L392.2,952.5 L396.2,949.8 L400.2,947.0 L404.2,944.3 L408.2,941.5 L412.2,938.7 L416.2,935.9 L420.2,933.1 L424.2,930.2 L428.2,927.4 L432.2,924.5 L436.2,921.5 L440.2,918.6 L444.2,915.6 L448.2,912.6 L452.2,909.6 L456.2,906.5 L460.2,903.5 L464.2,900.4 L468.2,897.2 L472.2,894.1 L476.2,890.9 L480.2,887.7 L484.2,884.4 L488.2,881.1 L492.2,877.8 L496.2,874.5 L500.2,871.1 L504.2,867.7 L508.2,864.3 L512.2,860.9 L516.2,857.5 L520.2,854.0 L524.2,850.5 L528.2,847.1 L532.2,843.6 L536.2,840.1 L540.2,836.6 L544.2,833.0 L548.2,829.5 L552.2,826.0 L556.2,822.5 L560.2,819.0 L564.2,815.5 L568.2,812.0 L572.2,808.5 L576.2,805.0 L580.2,801.6 L584.2,798.1 L588.2,794.7 L592.2,791.3 L596.2,787.9 L600.2,784.5 L604.2,781.2 L608.2,777.8 L612.2,774.5 L616.2,771.2 L620.2,767.9 L624.2,764.7 L628.2,761.4 L632.2,758.2 L636.2,754.9 L640.2,751.7 L644.2,748.5 L648.2,745.3 L652.2,742.1 L656.2,738.9 L660.2,735.7 L664.2,732.5 L668.2,729.3 L672.2,726.0 L676.2,722.8 L680.2,719.6 L684.2,716.4 L688.2,713.1 L692.2,709.9 L696.2,706.7 L700.2,703.4 L704.2,700.1 L708.2,696.8 L712.2,693.5 L716.2,690.2 L720.2,686.8 L724.2,683.4 L728.2,680.0 L732.2,676.6 L736.2,673.2 L740.2,669.7 L744.2,666.3 L748.2,662.8 L752.2,659.3 L756.2,655.8 L760.2,652.3 L764.2,648.8 L768.2,645.2 L772.2,641.7 L776.2,638.2 L780.2,634.7 L784.2,631.2 L788.2,627.7 L792.2,624.2 L796.2,620.7 L800.2,617.2 L804.2,613.8 L808.2,610.3 L812.2,606.9 L816.2,603.5 L820.2,600.1 L824.2,596.8 L828.2,593.5 L832.2,590.2 L836.2,586.9 L840.2,583.7 L844.2,580.5 L848.2,577.3 L852.2,574.2 L856.2,571.0 L860.2,567.9 L864.2,564.8 L868.2,561.7 L872.2,558.7 L876.2,555.6 L880.2,552.6 L884.2,549.6 L888.2,546.5 L892.2,543.5 L896.2,540.5 L900.2,537.6 L904.2,534.6 L908.2,531.6 L912.2,528.6 L916.2,525.7 L920.2,522.7 L924.2,519.7 L928.2,516.8 L932.2,513.8 L936.2,510.9 L940.2,507.9 L944.2,505.0 L948.2,502.1 L952.2,499.2 L956.2,496.3 L960.2,493.4 L964.2,490.6 L968.2,487.7 L972.2,484.9 L976.2,482.1 L980.2,479.3 L984.2,476.6 L988.2,473.8 L992.2,471.1 L996.2,468.4 L1000.2,465.7 L1004.2,463.0 L1008.2,460.3 L1012.2,457.7 L1016.2,455.1 L1020.2,452.5 L1024.2,449.9 L1028.2,447.3 L1032.2,444.8 L1036.2,442.2 L1040.2,439.7 L1044.2,437.2 L1048.2,434.8 L1052.2,432.3 L1056.2,429.9 L1060.2,427.5 L1064.2,425.1 L1068.2,422.8 L1072.2,420.4 L1076.2,418.1 L1080.2,415.8 L1084.2,413.6 L1088.2,411.3 L1092.2,409.1 L1096.2,406.9 L1100.2,404.7 L1104.2,402.5 L1108.2,400.4 L1112.2,398.3 L1116.2,396.2 L1120.2,394.2 L1124.2,392.1 L1128.2,390.1 L1132.2,388.1 L1136.2,386.2 L1140.2,384.3 L1144.2,382.3 L1148.2,380.5 L1152.2,378.6 L1156.2,376.8 L1160.2,375.0 L1164.2,373.2 L1168.2,371.5 L1172.2,369.7 L1176.2,368.0 L1180.2,366.4 L1184.2,364.7 L1188.2,363.1 L1192.2,361.5 L1196.2,360.0 L1200.2,358.5 L1204.2,357.0 L1208.2,355.5 L1212.2,354.1 L1216.2,352.7 L1220.2,351.3 L1224.2,349.9 L1228.2,348.6 L1232.2,347.3 L1236.2,346.1 L1240.2,344.8 L1244.2,343.7 L1248.2,342.5 L1252.2,341.4 L1256.2,340.3 L1260.2,339.2 L1264.2,338.1 L1268.2,337.1 L1272.2,336.2 L1276.2,335.2 L1280.2,334.3 L1284.2,333.5 L1288.2,332.6 L1292.2,331.8 L1296.2,331.0 L1300.2,330.3 L1304.2,329.6 L1308.2,328.9 L1312.2,328.3 L1316.2,327.7 L1320.2,327.1 L1324.2,326.6 L1328.2,326.1 L1332.2,325.6 L1336.2,325.2 L1340.2,324.8 L1344.2,324.4 L1348.2,324.1 L1352.2,323.8 L1356.2,323.5 L1360.2,323.3 L1364.2,323.1 L1368.2,323.0 L1372.2,322.8 L1376.2,322.7 L1380.2,322.7 L1384.2,322.7 L1388.2,322.7 L1392.2,322.7 L1396.2,322.8 L1400.2,322.9 L1404.2,323.1 L1408.2,323.2 L1412.2,323.5 L1416.2,323.7 L1420.2,324.0 L1424.2,324.3 L1428.2,324.7 L1432.2,325.0 L1436.2,325.5 L1440.2,325.9 L1444.2,326.4 L1448.2,326.9 L1452.2,327.5 L1456.2,328.1 L1460.2,328.7 L1464.2,329.4 L1468.2,330.0 L1472.2,330.8 L1476.2,331.5 L1480.2,332.3 L1484.2,333.2 L1488.2,334.0 L1492.2,334.9 L1496.2,335.8 L1500.2,336.8 L1504.2,337.8 L1508.2,338.8 L1512.2,339.9 L1516.2,341.0 L1520.2,342.1 L1524.2,343.3 L1528.2,344.5 L1532.2,345.8 L1536.2,347.0 L1540.2,348.3 L1544.2,349.7 L1548.2,351.0 L1552.2,352.4 L1556.2,353.9 L1560.2,355.4 L1564.2,356.9 L1568.2,358.4 L1572.2,360.0 L1576.2,361.6 L1580.2,363.2 L1584.2,364.9 L1588.2,366.6 L1592.2,368.4 L1596.2,370.2 L1600.2,372.0 L1604.2,373.8 L1608.2,375.7 L1612.2,377.6 L1616.2,379.6 L1620.2,381.5 L1624.2,383.6 L1628.2,385.6 L1632.2,387.7 L1636.2,389.8 L1640.2,392.0 L1644.2,394.2 L1648.2,396.4 L1652.2,398.6 L1656.2,400.9 L1660.2,403.3 L1664.2,405.6 L1668.2,408.0 L1672.2,410.4 L1676.2,412.9 L1680.2,415.4 L1684.2,417.9 L1688.2,420.5 L1692.2,423.1 L1696.2,425.7 L1700.2,428.3 L1704.2,431.0 L1708.2,433.8 L1712.2,436.5 L1716.2,439.3 L1720.2,442.2 L1724.2,445.0 L1728.2,447.9 L1732.2,450.9 L1736.2,453.8 L1740.2,456.8 L1744.2,459.9 L1748.2,462.9 L1752.2,466.0 L1756.2,469.2 L1760.2,472.3 L1764.2,475.5 L1768.2,478.7 L1772.2,482.0 L1776.2,485.3 L1780.2,488.6 L1784.2,491.9 L1788.2,495.3 L1792.2,498.7 L1796.2,502.1 L1800.2,505.5 L1804.2,509.0 L1808.2,512.5 L1812.2,516.0 L1816.2,519.6 L1820.2,523.1 L1824.2,526.7 L1828.2,530.4 L1832.2,534.0 L1836.2,537.7 L1840.2,541.4 L1844.2,545.1 L1848.2,548.8 L1852.2,552.6 L1856.2,556.4 L1860.2,560.2 L1864.2,564.0 L1868.2,567.8 L1872.2,571.7 L1876.2,575.6 L1880.2,579.5 L1884.2,583.4 L1888.2,587.3 L1892.2,591.3 L1896.2,595.2 L1900.2,599.2 L1904.2,603.2 L1908.2,607.2 L1912.2,611.2 L1916.2,615.3 L1920.2,619.3 L1924.2,623.4 L1928.2,627.5 L1932.2,631.6 L1936.2,635.7 L1940.2,639.8 L1944.2,644.0 L1948.2,648.1 L1952.2,652.3 L1956.2,656.5 L1960.2,660.6 L1964.2,664.8 L1968.2,669.0 L1972.2,673.2 L1976.2,677.5 L1980.2,681.7 L1984.2,685.9 L1988.2,690.2 L1992.2,694.4 L1996.2,698.7 L2000.2,702.9 L2004.2,707.2 L2008.2,711.5 L2012.2,715.8 L2016.2,720.1 L2020.2,724.3 L2024.2,728.6 L2028.2,732.9 L2032.2,737.3 L2036.2,741.6 L2040.2,745.9 L2044.2,750.2 L2048.2,754.5 L2052.2,758.9 L2056.2,763.2 L2060.2,767.5 L2064.2,771.9 L2068.2,776.3 L2072.2,780.6 L2076.2,785.0 L2080.2,789.4 L2084.2,793.7 L2088.2,798.1 L2092.2,802.5 L2096.2,806.9 L2100.2,811.3 L2104.2,815.7 L2108.2,820.1 L2112.2,824.6 L2116.2,829.0 L2120.2,833.4 L2124.2,837.9 L2128.2,842.3 L2132.2,846.8 L2136.2,851.3 L2140.2,855.7 L2144.2,860.2 L2148.2,864.7 L2152.2,869.2 L2156.2,873.7 L2160.2,878.2 L2164.2,882.7 L2168.2,887.2 L2172.2,891.7 L2176.2,896.2 L2180.2,900.7 L2184.2,905.2 L2188.2,909.7 L2192.2,914.2 L2196.2,918.6 L2200.2,923.1 L2204.2,927.5 L2208.2,931.9 L2212.2,936.3 L2216.2,940.7 L2220.2,945.0 L2224.2,949.4 L2228.2,953.7 L2232.2,957.9 L2236.2,962.2 L2240.2,966.4 L2244.2,970.6 L2248.2,974.7 L2252.2,978.9 L2256.2,982.9 L2260.2,987.0 L2264.2,991.1 L2268.2,995.1 L2272.2,999.0 L2276.2,1003.0 L2280.2,1006.9 L2284.2,1010.8 L2288.2,1014.6 L2292.2,1018.4 L2296.2,1022.2 L2300.2,1026.0 L2304.2,1029.7 L2308.2,1033.3 L2312.2,1037.0 L2316.2,1040.6 L2320.2,1044.2 L2324.2,1047.7 L2328.2,1051.2 L2332.2,1054.6 L2336.2,1058.0 L2340.2,1061.4 L2344.2,1064.7 L2348.2,1068.0 L2352.2,1071.3 L2356.2,1074.5 L2360.2,1077.7 L2364.2,1080.8 L2368.2,1083.9 L2368.3,1084.0" fill="none" stroke="#5F1D9C" stroke-width="4.7" stroke-linejoin="round"/>
<path d="M240.2,1114.3 L244.2,1112.7 L248.2,1111.1 L252.2,1109.5 L256.2,1107.8 L260.2,1106.1 L264.2,1104.4 L268.2,1102.6 L272.2,1100.9 L276.2,1099.1 L280.2,1097.2 L284.2,1095.4 L288.2,1093.5 L292.2,1091.6 L296.2,1089.7 L300.2,1087.7 L304.2,1085.7 L308.2,1083.7 L312.2,1081.7 L316.2,1079.6 L320.2,1077.6 L324.2,1075.4 L328.2,1073.3 L332.2,1071.2 L336.2,1069.0 L340.2,1066.8 L344.2,1064.6 L348.2,1062.3 L352.2,1060.1 L356.2,1057.8 L360.2,1055.5 L364.2,1053.1 L368.2,1050.8 L372.2,1048.4 L376.2,1046.0 L380.2,1043.6 L384.2,1041.1 L388.2,1038.7 L392.2,1036.2 L396.2,1033.7 L400.2,1031.2 L404.2,1028.6 L408.2,1026.0 L412.2,1023.5 L416.2,1020.8 L420.2,1018.2 L424.2,1015.6 L428.2,1012.9 L432.2,1010.2 L436.2,1007.5 L440.2,1004.8 L444.2,1002.0 L448.2,999.3 L452.2,996.5 L456.2,993.7 L460.2,990.9 L464.2,988.0 L468.2,985.2 L472.2,982.3 L476.2,979.4 L480.2,976.5 L484.2,973.6 L488.2,970.7 L492.2,967.7 L496.2,964.7 L500.2,961.7 L504.2,958.7 L508.2,955.7 L512.2,952.7 L516.2,949.6 L520.2,946.5 L524.2,943.5 L528.2,940.4 L532.2,937.2 L536.2,934.1 L540.2,931.0 L544.2,927.8 L548.2,924.6 L552.2,921.5 L556.2,918.3 L560.2,915.0 L564.2,911.8 L568.2,908.6 L572.2,905.3 L576.2,902.1 L580.2,898.8 L584.2,895.5 L588.2,892.2 L592.2,888.9 L596.2,885.6 L600.2,882.3 L604.2,878.9 L608.2,875.6 L612.2,872.2 L616.2,868.8 L620.2,865.4 L624.2,862.1 L628.2,858.7 L632.2,855.2 L636.2,851.8 L640.2,848.4 L644.2,845.0 L648.2,841.5 L652.2,838.1 L656.2,834.6 L660.2,831.1 L664.2,827.7 L668.2,824.2 L672.2,820.7 L676.2,817.2 L680.2,813.7 L684.2,810.2 L688.2,806.7 L692.2,803.2 L696.2,799.6 L700.2,796.1 L704.2,792.6 L708.2,789.0 L712.2,785.5 L716.2,781.9 L720.2,778.4 L724.2,774.8 L728.2,771.3 L732.2,767.7 L736.2,764.1 L740.2,760.6 L744.2,757.0 L748.2,753.4 L752.2,749.8 L756.2,746.3 L760.2,742.7 L764.2,739.1 L768.2,735.5 L772.2,731.9 L776.2,728.4 L780.2,724.8 L784.2,721.2 L788.2,717.6 L792.2,714.0 L796.2,710.4 L800.2,706.9 L804.2,703.3 L808.2,699.7 L812.2,696.1 L816.2,692.6 L820.2,689.0 L824.2,685.4 L828.2,681.9 L832.2,678.3 L836.2,674.8 L840.2,671.2 L844.2,667.7 L848.2,664.1 L852.2,660.6 L856.2,657.1 L860.2,653.5 L864.2,650.0 L868.2,646.5 L872.2,643.0 L876.2,639.5 L880.2,636.0 L884.2,632.5 L888.2,629.0 L892.2,625.6 L896.2,622.1 L900.2,618.7 L904.2,615.2 L908.2,611.8 L912.2,608.4 L916.2,604.9 L920.2,601.5 L924.2,598.1 L928.2,594.7 L932.2,591.4 L936.2,588.0 L940.2,584.7 L944.2,581.3 L948.2,578.0 L952.2,574.7 L956.2,571.4 L960.2,568.1 L964.2,564.8 L968.2,561.5 L972.2,558.3 L976.2,555.0 L980.2,551.8 L984.2,548.6 L988.2,545.4 L992.2,542.2 L996.2,539.1 L1000.2,535.9 L1004.2,532.8 L1008.2,529.7 L1012.2,526.6 L1016.2,523.5 L1020.2,520.4 L1024.2,517.3 L1028.2,514.3 L1032.2,511.3 L1036.2,508.3 L1040.2,505.3 L1044.2,502.3 L1048.2,499.4 L1052.2,496.4 L1056.2,493.5 L1060.2,490.6 L1064.2,487.7 L1068.2,484.9 L1072.2,482.0 L1076.2,479.2 L1080.2,476.4 L1084.2,473.6 L1088.2,470.8 L1092.2,468.1 L1096.2,465.4 L1100.2,462.7 L1104.2,460.0 L1108.2,457.3 L1112.2,454.7 L1116.2,452.1 L1120.2,449.5 L1124.2,446.9 L1128.2,444.3 L1132.2,441.8 L1136.2,439.3 L1140.2,436.8 L1144.2,434.3 L1148.2,431.9 L1152.2,429.5 L1156.2,427.1 L1160.2,424.7 L1164.2,422.4 L1168.2,420.0 L1172.2,417.7 L1176.2,415.5 L1180.2,413.2 L1184.2,411.0 L1188.2,408.8 L1192.2,406.6 L1196.2,404.5 L1200.2,402.3 L1204.2,400.2 L1208.2,398.2 L1212.2,396.1 L1216.2,394.1 L1220.2,392.1 L1224.2,390.1 L1228.2,388.2 L1232.2,386.3 L1236.2,384.4 L1240.2,382.5 L1244.2,380.7 L1248.2,378.9 L1252.2,377.2 L1256.2,375.4 L1260.2,373.7 L1264.2,372.0 L1268.2,370.4 L1272.2,368.7 L1276.2,367.1 L1280.2,365.6 L1284.2,364.0 L1288.2,362.5 L1292.2,361.1 L1296.2,359.6 L1300.2,358.2 L1304.2,356.8 L1308.2,355.5 L1312.2,354.2 L1316.2,352.9 L1320.2,351.6 L1324.2,350.4 L1328.2,349.2 L1332.2,348.1 L1336.2,346.9 L1340.2,345.8 L1344.2,344.8 L1348.2,343.8 L1352.2,342.8 L1356.2,341.8 L1360.2,340.9 L1364.2,340.0 L1368.2,339.1 L1372.2,338.3 L1376.2,337.5 L1380.2,336.7 L1384.2,335.9 L1388.2,335.2 L1392.2,334.6 L1396.2,333.9 L1400.2,333.3 L1404.2,332.8 L1408.2,332.2 L1412.2,331.7 L1416.2,331.2 L1420.2,330.8 L1424.2,330.4 L1428.2,330.0 L1432.2,329.7 L1436.2,329.4 L1440.2,329.1 L1444.2,328.9 L1448.2,328.7 L1452.2,328.5 L1456.2,328.4 L1460.2,328.3 L1464.2,328.2 L1468.2,328.2 L1472.2,328.2 L1476.2,328.2 L1480.2,328.3 L1484.2,328.4 L1488.2,328.6 L1492.2,328.7 L1496.2,329.0 L1500.2,329.2 L1504.2,329.5 L1508.2,329.8 L1512.2,330.2 L1516.2,330.6 L1520.2,331.0 L1524.2,331.4 L1528.2,331.9 L1532.2,332.5 L1536.2,333.0 L1540.2,333.6 L1544.2,334.3 L1548.2,335.0 L1552.2,335.7 L1556.2,336.4 L1560.2,337.2 L1564.2,338.0 L1568.2,338.9 L1572.2,339.8 L1576.2,340.7 L1580.2,341.7 L1584.2,342.7 L1588.2,343.7 L1592.2,344.8 L1596.2,345.9 L1600.2,347.1 L1604.2,348.3 L1608.2,349.5 L1612.2,350.7 L1616.2,352.0 L1620.2,353.4 L1624.2,354.8 L1628.2,356.2 L1632.2,357.6 L1636.2,359.1 L1640.2,360.6 L1644.2,362.2 L1648.2,363.8 L1652.2,365.4 L1656.2,367.1 L1660.2,368.8 L1664.2,370.6 L1668.2,372.4 L1672.2,374.2 L1676.2,376.1 L1680.2,378.0 L1684.2,379.9 L1688.2,381.9 L1692.2,383.9 L1696.2,386.0 L1700.2,388.1 L1704.2,390.2 L1708.2,392.4 L1712.2,394.6 L1716.2,396.9 L1720.2,399.2 L1724.2,401.5 L1728.2,403.8 L1732.2,406.2 L1736.2,408.7 L1740.2,411.1 L1744.2,413.6 L1748.2,416.2 L1752.2,418.7 L1756.2,421.3 L1760.2,424.0 L1764.2,426.6 L1768.2,429.4 L1772.2,432.1 L1776.2,434.9 L1780.2,437.7 L1784.2,440.5 L1788.2,443.4 L1792.2,446.3 L1796.2,449.2 L1800.2,452.2 L1804.2,455.2 L1808.2,458.2 L1812.2,461.3 L1816.2,464.4 L1820.2,467.5 L1824.2,470.7 L1828.2,473.9 L1832.2,477.1 L1836.2,480.3 L1840.2,483.6 L1844.2,486.9 L1848.2,490.3 L1852.2,493.6 L1856.2,497.0 L1860.2,500.5 L1864.2,503.9 L1868.2,507.4 L1872.2,510.9 L1876.2,514.4 L1880.2,518.0 L1884.2,521.6 L1888.2,525.2 L1892.2,528.9 L1896.2,532.5 L1900.2,536.2 L1904.2,540.0 L1908.2,543.7 L1912.2,547.5 L1916.2,551.3 L1920.2,555.1 L1924.2,559.0 L1928.2,562.9 L1932.2,566.8 L1936.2,570.7 L1940.2,574.6 L1944.2,578.6 L1948.2,582.6 L1952.2,586.6 L1956.2,590.7 L1960.2,594.8 L1964.2,598.9 L1968.2,603.0 L1972.2,607.1 L1976.2,611.3 L1980.2,615.4 L1984.2,619.6 L1988.2,623.9 L1992.2,628.1 L1996.2,632.3 L2000.2,636.6 L2004.2,640.9 L2008.2,645.2 L2012.2,649.5 L2016.2,653.9 L2020.2,658.2 L2024.2,662.6 L2028.2,667.0 L2032.2,671.4 L2036.2,675.8 L2040.2,680.2 L2044.2,684.6 L2048.2,689.1 L2052.2,693.5 L2056.2,698.0 L2060.2,702.5 L2064.2,707.0 L2068.2,711.4 L2072.2,716.0 L2076.2,720.5 L2080.2,725.0 L2084.2,729.5 L2088.2,734.0 L2092.2,738.6 L2096.2,743.1 L2100.2,747.7 L2104.2,752.2 L2108.2,756.8 L2112.2,761.3 L2116.2,765.9 L2120.2,770.4 L2124.2,775.0 L2128.2,779.6 L2132.2,784.1 L2136.2,788.7 L2140.2,793.2 L2144.2,797.8 L2148.2,802.4 L2152.2,806.9 L2156.2,811.5 L2160.2,816.0 L2164.2,820.6 L2168.2,825.1 L2172.2,829.6 L2176.2,834.2 L2180.2,838.7 L2184.2,843.2 L2188.2,847.7 L2192.2,852.2 L2196.2,856.7 L2200.2,861.2 L2204.2,865.7 L2208.2,870.2 L2212.2,874.6 L2216.2,879.1 L2220.2,883.5 L2224.2,887.9 L2228.2,892.4 L2232.2,896.8 L2236.2,901.1 L2240.2,905.5 L2244.2,909.9 L2248.2,914.2 L2252.2,918.5 L2256.2,922.9 L2260.2,927.2 L2264.2,931.4 L2268.2,935.7 L2272.2,939.9 L2276.2,944.2 L2280.2,948.4 L2284.2,952.5 L2288.2,956.7 L2292.2,960.9 L2296.2,965.0 L2300.2,969.1 L2304.2,973.2 L2308.2,977.2 L2312.2,981.2 L2316.2,985.3 L2320.2,989.2 L2324.2,993.2 L2328.2,997.1 L2332.2,1001.0 L2336.2,1004.9 L2340.2,1008.8 L2344.2,1012.6 L2348.2,1016.4 L2352.2,1020.2 L2356.2,1023.9 L2360.2,1027.6 L2364.2,1031.3 L2368.2,1034.9 L2368.3,1035.0" fill="none" stroke="#FF0000" stroke-width="8.4" stroke-opacity="0.42" stroke-linejoin="round"/>
<path d="M240.2,1114.3 L244.2,1112.7 L248.2,1111.1 L252.2,1109.5 L256.2,1107.8 L260.2,1106.1 L264.2,1104.4 L268.2,1102.6 L272.2,1100.9 L276.2,1099.1 L280.2,1097.2 L284.2,1095.4 L288.2,1093.5 L292.2,1091.6 L296.2,1089.7 L300.2,1087.7 L304.2,1085.7 L308.2,1083.7 L312.2,1081.7 L316.2,1079.6 L320.2,1077.6 L324.2,1075.4 L328.2,1073.3 L332.2,1071.2 L336.2,1069.0 L340.2,1066.8 L344.2,1064.6 L348.2,1062.3 L352.2,1060.1 L356.2,1057.8 L360.2,1055.5 L364.2,1053.1 L368.2,1050.8 L372.2,1048.4 L376.2,1046.0 L380.2,1043.6 L384.2,1041.1 L388.2,1038.7 L392.2,1036.2 L396.2,1033.7 L400.2,1031.2 L404.2,1028.6 L408.2,1026.0 L412.2,1023.5 L416.2,1020.8 L420.2,1018.2 L424.2,1015.6 L428.2,1012.9 L432.2,1010.2 L436.2,1007.5 L440.2,1004.8 L444.2,1002.0 L448.2,999.3 L452.2,996.5 L456.2,993.7 L460.2,990.9 L464.2,988.0 L468.2,985.2 L472.2,982.3 L476.2,979.4 L480.2,976.5 L484.2,973.6 L488.2,970.7 L492.2,967.7 L496.2,964.7 L500.2,961.7 L504.2,958.7 L508.2,955.7 L512.2,952.7 L516.2,949.6 L520.2,946.5 L524.2,943.5 L528.2,940.4 L532.2,937.2 L536.2,934.1 L540.2,931.0 L544.2,927.8 L548.2,924.6 L552.2,921.5 L556.2,918.3 L560.2,915.0 L564.2,911.8 L568.2,908.6 L572.2,905.3 L576.2,902.1 L580.2,898.8 L584.2,895.5 L588.2,892.2 L592.2,888.9 L596.2,885.6 L600.2,882.3 L604.2,878.9 L608.2,875.6 L612.2,872.2 L616.2,868.8 L620.2,865.4 L624.2,862.1 L628.2,858.7 L632.2,855.2 L636.2,851.8 L640.2,848.4 L644.2,845.0 L648.2,841.5 L652.2,838.1 L656.2,834.6 L660.2,831.1 L664.2,827.7 L668.2,824.2 L672.2,820.7 L676.2,817.2 L680.2,813.7 L684.2,810.2 L688.2,806.7 L692.2,803.2 L696.2,799.6 L700.2,796.1 L704.2,792.6 L708.2,789.0 L712.2,785.5 L716.2,781.9 L720.2,778.4 L724.2,774.8 L728.2,771.3 L732.2,767.7 L736.2,764.1 L740.2,760.6 L744.2,757.0 L748.2,753.4 L752.2,749.8 L756.2,746.3 L760.2,742.7 L764.2,739.1 L768.2,735.5 L772.2,731.9 L776.2,728.4 L780.2,724.8 L784.2,721.2 L788.2,717.6 L792.2,714.0 L796.2,710.4 L800.2,706.9 L804.2,703.3 L808.2,699.7 L812.2,696.1 L816.2,692.6 L820.2,689.0 L824.2,685.4 L828.2,681.9 L832.2,678.3 L836.2,674.8 L840.2,671.2 L844.2,667.7 L848.2,664.1 L852.2,660.6 L856.2,657.1 L860.2,653.5 L864.2,650.0 L868.2,646.5 L872.2,643.0 L876.2,639.5 L880.2,636.0 L884.2,632.5 L888.2,629.0 L892.2,625.6 L896.2,622.1 L900.2,618.7 L904.2,615.2 L908.2,611.8 L912.2,608.4 L916.2,604.9 L920.2,601.5 L924.2,598.1 L928.2,594.7 L932.2,591.4 L936.2,588.0 L940.2,584.7 L944.2,581.3 L948.2,578.0 L952.2,574.7 L956.2,571.4 L960.2,568.1 L964.2,564.8 L968.2,561.5 L972.2,558.3 L976.2,555.0 L980.2,551.8 L984.2,548.6 L988.2,545.4 L992.2,542.2 L996.2,539.1 L1000.2,535.9 L1004.2,532.8 L1008.2,529.7 L1012.2,526.6 L1016.2,523.5 L1020.2,520.4 L1024.2,517.3 L1028.2,514.3 L1032.2,511.3 L1036.2,508.3 L1040.2,505.3 L1044.2,502.3 L1048.2,499.4 L1052.2,496.4 L1056.2,493.5 L1060.2,490.6 L1064.2,487.7 L1068.2,484.9 L1072.2,482.0 L1076.2,479.2 L1080.2,476.4 L1084.2,473.6 L1088.2,470.8 L1092.2,468.1 L1096.2,465.4 L1100.2,462.7 L1104.2,460.0 L1108.2,457.3 L1112.2,454.7 L1116.2,452.1 L1120.2,449.5 L1124.2,446.9 L1128.2,444.3 L1132.2,441.8 L1136.2,439.3 L1140.2,436.8 L1144.2,434.3 L1148.2,431.9 L1152.2,429.5 L1156.2,427.1 L1160.2,424.7 L1164.2,422.4 L1168.2,420.0 L1172.2,417.7 L1176.2,415.5 L1180.2,413.2 L1184.2,411.0 L1188.2,408.8 L1192.2,406.6 L1196.2,404.5 L1200.2,402.3 L1204.2,400.2 L1208.2,398.2 L1212.2,396.1 L1216.2,394.1 L1220.2,392.1 L1224.2,390.1 L1228.2,388.2 L1232.2,386.3 L1236.2,384.4 L1240.2,382.5 L1244.2,380.7 L1248.2,378.9 L1252.2,377.2 L1256.2,375.4 L1260.2,373.7 L1264.2,372.0 L1268.2,370.4 L1272.2,368.7 L1276.2,367.1 L1280.2,365.6 L1284.2,364.0 L1288.2,362.5 L1292.2,361.1 L1296.2,359.6 L1300.2,358.2 L1304.2,356.8 L1308.2,355.5 L1312.2,354.2 L1316.2,352.9 L1320.2,351.6 L1324.2,350.4 L1328.2,349.2 L1332.2,348.1 L1336.2,346.9 L1340.2,345.8 L1344.2,344.8 L1348.2,343.8 L1352.2,342.8 L1356.2,341.8 L1360.2,340.9 L1364.2,340.0 L1368.2,339.1 L1372.2,338.3 L1376.2,337.5 L1380.2,336.7 L1384.2,335.9 L1388.2,335.2 L1392.2,334.6 L1396.2,333.9 L1400.2,333.3 L1404.2,332.8 L1408.2,332.2 L1412.2,331.7 L1416.2,331.2 L1420.2,330.8 L1424.2,330.4 L1428.2,330.0 L1432.2,329.7 L1436.2,329.4 L1440.2,329.1 L1444.2,328.9 L1448.2,328.7 L1452.2,328.5 L1456.2,328.4 L1460.2,328.3 L1464.2,328.2 L1468.2,328.2 L1472.2,328.2 L1476.2,328.2 L1480.2,328.3 L1484.2,328.4 L1488.2,328.6 L1492.2,328.7 L1496.2,329.0 L1500.2,329.2 L1504.2,329.5 L1508.2,329.8 L1512.2,330.2 L1516.2,330.6 L1520.2,331.0 L1524.2,331.4 L1528.2,331.9 L1532.2,332.5 L1536.2,333.0 L1540.2,333.6 L1544.2,334.3 L1548.2,335.0 L1552.2,335.7 L1556.2,336.4 L1560.2,337.2 L1564.2,338.0 L1568.2,338.9 L1572.2,339.8 L1576.2,340.7 L1580.2,341.7 L1584.2,342.7 L1588.2,343.7 L1592.2,344.8 L1596.2,345.9 L1600.2,347.1 L1604.2,348.3 L1608.2,349.5 L1612.2,350.7 L1616.2,352.0 L1620.2,353.4 L1624.2,354.8 L1628.2,356.2 L1632.2,357.6 L1636.2,359.1 L1640.2,360.6 L1644.2,362.2 L1648.2,363.8 L1652.2,365.4 L1656.2,367.1 L1660.2,368.8 L1664.2,370.6 L1668.2,372.4 L1672.2,374.2 L1676.2,376.1 L1680.2,378.0 L1684.2,379.9 L1688.2,381.9 L1692.2,383.9 L1696.2,386.0 L1700.2,388.1 L1704.2,390.2 L1708.2,392.4 L1712.2,394.6 L1716.2,396.9 L1720.2,399.2 L1724.2,401.5 L1728.2,403.8 L1732.2,406.2 L1736.2,408.7 L1740.2,411.1 L1744.2,413.6 L1748.2,416.2 L1752.2,418.7 L1756.2,421.3 L1760.2,424.0 L1764.2,426.6 L1768.2,429.4 L1772.2,432.1 L1776.2,434.9 L1780.2,437.7 L1784.2,440.5 L1788.2,443.4 L1792.2,446.3 L1796.2,449.2 L1800.2,452.2 L1804.2,455.2 L1808.2,458.2 L1812.2,461.3 L1816.2,464.4 L1820.2,467.5 L1824.2,470.7 L1828.2,473.9 L1832.2,477.1 L1836.2,480.3 L1840.2,483.6 L1844.2,486.9 L1848.2,490.3 L1852.2,493.6 L1856.2,497.0 L1860.2,500.5 L1864.2,503.9 L1868.2,507.4 L1872.2,510.9 L1876.2,514.4 L1880.2,518.0 L1884.2,521.6 L1888.2,525.2 L1892.2,528.9 L1896.2,532.5 L1900.2,536.2 L1904.2,540.0 L1908.2,543.7 L1912.2,547.5 L1916.2,551.3 L1920.2,555.1 L1924.2,559.0 L1928.2,562.9 L1932.2,566.8 L1936.2,570.7 L1940.2,574.6 L1944.2,578.6 L1948.2,582.6 L1952.2,586.6 L1956.2,590.7 L1960.2,594.8 L1964.2,598.9 L1968.2,603.0 L1972.2,607.1 L1976.2,611.3 L1980.2,615.4 L1984.2,619.6 L1988.2,623.9 L1992.2,628.1 L1996.2,632.3 L2000.2,636.6 L2004.2,640.9 L2008.2,645.2 L2012.2,649.5 L2016.2,653.9 L2020.2,658.2 L2024.2,662.6 L2028.2,667.0 L2032.2,671.4 L2036.2,675.8 L2040.2,680.2 L2044.2,684.6 L2048.2,689.1 L2052.2,693.5 L2056.2,698.0 L2060.2,702.5 L2064.2,707.0 L2068.2,711.4 L2072.2,716.0 L2076.2,720.5 L2080.2,725.0 L2084.2,729.5 L2088.2,734.0 L2092.2,738.6 L2096.2,743.1 L2100.2,747.7 L2104.2,752.2 L2108.2,756.8 L2112.2,761.3 L2116.2,765.9 L2120.2,770.4 L2124.2,775.0 L2128.2,779.6 L2132.2,784.1 L2136.2,788.7 L2140.2,793.2 L2144.2,797.8 L2148.2,802.4 L2152.2,806.9 L2156.2,811.5 L2160.2,816.0 L2164.2,820.6 L2168.2,825.1 L2172.2,829.6 L2176.2,834.2 L2180.2,838.7 L2184.2,843.2 L2188.2,847.7 L2192.2,852.2 L2196.2,856.7 L2200.2,861.2 L2204.2,865.7 L2208.2,870.2 L2212.2,874.6 L2216.2,879.1 L2220.2,883.5 L2224.2,887.9 L2228.2,892.4 L2232.2,896.8 L2236.2,901.1 L2240.2,905.5 L2244.2,909.9 L2248.2,914.2 L2252.2,918.5 L2256.2,922.9 L2260.2,927.2 L2264.2,931.4 L2268.2,935.7 L2272.2,939.9 L2276.2,944.2 L2280.2,948.4 L2284.2,952.5 L2288.2,956.7 L2292.2,960.9 L2296.2,965.0 L2300.2,969.1 L2304.2,973.2 L2308.2,977.2 L2312.2,981.2 L2316.2,985.3 L2320.2,989.2 L2324.2,993.2 L2328.2,997.1 L2332.2,1001.0 L2336.2,1004.9 L2340.2,1008.8 L2344.2,1012.6 L2348.2,1016.4 L2352.2,1020.2 L2356.2,1023.9 L2360.2,1027.6 L2364.2,1031.3 L2368.2,1034.9 L2368.3,1035.0" fill="none" stroke="#FF0000" stroke-width="4.7" stroke-linejoin="round"/>
</g>
<rect x="240.2" y="35.8" width="2128.1000000000004" height="1108.8" fill="none" stroke="#000" stroke-width="6.5"/>
<g stroke="#000" stroke-width="6"><line x1="594.8" y1="1144.6" x2="594.8" y2="1122.6"/><line x1="948.0" y1="1144.6" x2="948.0" y2="1122.6"/><line x1="1305.8" y1="1144.6" x2="1305.8" y2="1122.6"/><line x1="1660.6" y1="1144.6" x2="1660.6" y2="1122.6"/><line x1="2014.9" y1="1144.6" x2="2014.9" y2="1122.6"/><line x1="240.2" y1="1005.5" x2="265.2" y2="1005.5"/><line x1="240.2" y1="866.5" x2="265.2" y2="866.5"/><line x1="240.2" y1="727.6" x2="265.2" y2="727.6"/><line x1="240.2" y1="588.2" x2="265.2" y2="588.2"/><line x1="240.2" y1="452.2" x2="265.2" y2="452.2"/><line x1="240.2" y1="313.2" x2="265.2" y2="313.2"/><line x1="240.2" y1="174.5" x2="265.2" y2="174.5"/></g>
<line x1="1200.5" y1="35.0" x2="1200.5" y2="1147.2" stroke="#4A8ED4" stroke-width="8.4" stroke-opacity="0.42"/>
<line x1="1200.5" y1="35.0" x2="1200.5" y2="1147.2" stroke="#4A8ED4" stroke-width="5.2"/>
<line x1="1271.0" y1="35.0" x2="1271.0" y2="1147.2" stroke="#727272" stroke-width="8.4" stroke-opacity="0.42"/>
<line x1="1271.0" y1="35.0" x2="1271.0" y2="1147.2" stroke="#727272" stroke-width="5.2"/>
<line x1="1288.9" y1="35.0" x2="1288.9" y2="1147.2" stroke="#62A832" stroke-width="8.4" stroke-opacity="0.42"/>
<line x1="1288.9" y1="35.0" x2="1288.9" y2="1147.2" stroke="#62A832" stroke-width="5.2"/>
<line x1="1342.0" y1="35.0" x2="1342.0" y2="1147.2" stroke="#FFBE10" stroke-width="8.4" stroke-opacity="0.42"/>
<line x1="1342.0" y1="35.0" x2="1342.0" y2="1147.2" stroke="#FFBE10" stroke-width="5.2"/>
<line x1="1395.0" y1="35.0" x2="1395.0" y2="1147.2" stroke="#5F1D9C" stroke-width="8.4" stroke-opacity="0.42"/>
<line x1="1395.0" y1="35.0" x2="1395.0" y2="1147.2" stroke="#5F1D9C" stroke-width="5.2"/>
<line x1="1466.0" y1="35.0" x2="1466.0" y2="1147.2" stroke="#FF0000" stroke-width="8.4" stroke-opacity="0.42"/>
<line x1="1466.0" y1="35.0" x2="1466.0" y2="1147.2" stroke="#FF0000" stroke-width="5.2"/>
<line x1="284" y1="82.0" x2="431" y2="82.0" stroke="#62A832" stroke-width="7.4" stroke-opacity="0.42"/>
<line x1="284" y1="82.0" x2="431" y2="82.0" stroke="#62A832" stroke-width="4.2"/>
<line x1="284" y1="168.0" x2="431" y2="168.0" stroke="#FF0000" stroke-width="7.4" stroke-opacity="0.42"/>
<line x1="284" y1="168.0" x2="431" y2="168.0" stroke="#FF0000" stroke-width="4.2"/>
<line x1="284" y1="250.8" x2="431" y2="250.8" stroke="#5F1D9C" stroke-width="7.4" stroke-opacity="0.42"/>
<line x1="284" y1="250.8" x2="431" y2="250.8" stroke="#5F1D9C" stroke-width="4.2"/>
<line x1="284" y1="333.3" x2="431" y2="333.3" stroke="#727272" stroke-width="7.4" stroke-opacity="0.42"/>
<line x1="284" y1="333.3" x2="431" y2="333.3" stroke="#727272" stroke-width="4.2"/>
<line x1="284" y1="415.5" x2="431" y2="415.5" stroke="#FFBE10" stroke-width="7.4" stroke-opacity="0.42"/>
<line x1="284" y1="415.5" x2="431" y2="415.5" stroke="#FFBE10" stroke-width="4.2"/>
<line x1="284" y1="498.0" x2="431" y2="498.0" stroke="#4A8ED4" stroke-width="7.4" stroke-opacity="0.42"/>
<line x1="284" y1="498.0" x2="431" y2="498.0" stroke="#4A8ED4" stroke-width="4.2"/>
<g font-family="'Liberation Serif', serif" fill="#000"><text x="442.8" y="102.4" font-size="67" textLength="369.1" lengthAdjust="spacingAndGlyphs">Donglalatun</text><text x="437.7" y="185.0" font-size="67" textLength="483.9" lengthAdjust="spacingAndGlyphs">Shuangchengpu</text><text x="440.1" y="267.7" font-size="67" textLength="371.0" lengthAdjust="spacingAndGlyphs">Taipingshan</text><text x="440.0" y="350.3" font-size="67" textLength="360.8" lengthAdjust="spacingAndGlyphs">Chenjiadian</text><text x="439.0" y="437.3" font-size="67" textLength="321.4" lengthAdjust="spacingAndGlyphs">Longwang</text><text x="439.0" y="519.2" font-size="67" textLength="258.7" lengthAdjust="spacingAndGlyphs">Kaoshan</text><text x="136.7" y="1165.1" font-size="67.5" textLength="37.4" lengthAdjust="spacingAndGlyphs">0</text><text x="132.2" y="1026.0" font-size="67.5" textLength="43.6" lengthAdjust="spacingAndGlyphs">1</text><text x="136.6" y="887.0" font-size="67.5" textLength="38.8" lengthAdjust="spacingAndGlyphs">2</text><text x="136.7" y="748.1" font-size="67.5" textLength="37.4" lengthAdjust="spacingAndGlyphs">3</text><text x="139.0" y="608.7" font-size="67.5" textLength="32.7" lengthAdjust="spacingAndGlyphs">4</text><text x="135.4" y="472.7" font-size="67.5" textLength="38.8" lengthAdjust="spacingAndGlyphs">5</text><text x="136.8" y="333.7" font-size="67.5" textLength="36.1" lengthAdjust="spacingAndGlyphs">6</text><text x="135.6" y="195.0" font-size="67.5" textLength="37.4" lengthAdjust="spacingAndGlyphs">7</text><text x="136.7" y="56.3" font-size="67.5" textLength="37.4" lengthAdjust="spacingAndGlyphs">8</text><text x="178.4" y="1255.0" font-size="67.5" textLength="106.7" lengthAdjust="spacingAndGlyphs">160</text><text x="533.0" y="1255.0" font-size="67.5" textLength="106.7" lengthAdjust="spacingAndGlyphs">180</text><text x="889.4" y="1255.0" font-size="67.5" textLength="103.4" lengthAdjust="spacingAndGlyphs">200</text><text x="1247.2" y="1255.0" font-size="67.5" textLength="103.4" lengthAdjust="spacingAndGlyphs">220</text><text x="1602.0" y="1255.0" font-size="67.5" textLength="103.4" lengthAdjust="spacingAndGlyphs">240</text><text x="1956.3" y="1255.0" font-size="67.5" textLength="103.4" lengthAdjust="spacingAndGlyphs">260</text><text x="2309.7" y="1255.0" font-size="67.5" textLength="103.4" lengthAdjust="spacingAndGlyphs">280</text><text x="1223.1" y="1340.0" font-size="76" textLength="164.9" lengthAdjust="spacingAndGlyphs">DOY</text><text transform="rotate(-90)" x="-774.8" y="95.0" font-size="80" textLength="371.6" lengthAdjust="spacingAndGlyphs">MODIS LAI</text></g>
</svg>
</body></html>
